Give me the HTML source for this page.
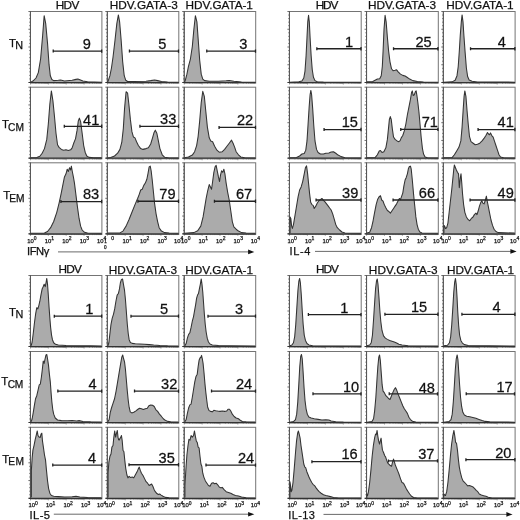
<!DOCTYPE html>
<html lang="en"><head><meta charset="utf-8"><title>Cytokine production by T cell subsets</title>
<style>
html,body{margin:0;padding:0;background:#fff;}
body{width:520px;height:520px;overflow:hidden;}
svg{display:block;will-change:transform;}
svg text{font-family:"Liberation Sans",Arial,Helvetica,sans-serif;fill:#111;stroke:#111;stroke-width:0.25px;}
</style></head><body>
<svg width="520" height="520" viewBox="0 0 520 520">
<rect width="520" height="520" fill="#fff"/>
<g>
<rect x="30.5" y="11.5" width="71.4" height="71.6" fill="#fff" stroke="#747474" stroke-width="1"/>
<path d="M30.7 82.5h-2.3M30.7 78.95h-1.4M30.7 75.4h-1.4M30.7 71.85h-1.4M30.7 68.3h-1.4M30.7 64.75h-2.3M30.7 61.2h-1.4M30.7 57.65h-1.4M30.7 54.1h-1.4M30.7 50.55h-1.4M30.7 47h-2.3M30.7 43.45h-1.4M30.7 39.9h-1.4M30.7 36.35h-1.4M30.7 32.8h-1.4M30.7 29.25h-2.3M30.7 25.7h-1.4M30.7 22.15h-1.4M30.7 18.6h-1.4M30.7 15.05h-1.4M30.7 11.5h-2.3" stroke="#4a4a4a" stroke-width="0.8" fill="none"/>
<path d="M30.4 11.5V82.5" stroke="#555" stroke-width="1" fill="none"/>
<path d="M30.5 82.8v1.8M35.87 82.8v1M39.02 82.8v1M41.25 82.8v1M42.98 82.8v1M44.39 82.8v1M45.59 82.8v1M46.62 82.8v1M47.53 82.8v1M48.35 82.8v1.8M53.72 82.8v1M56.87 82.8v1M59.1 82.8v1M60.83 82.8v1M62.24 82.8v1M63.44 82.8v1M64.47 82.8v1M65.38 82.8v1M66.2 82.8v1.8M71.57 82.8v1M74.72 82.8v1M76.95 82.8v1M78.68 82.8v1M80.09 82.8v1M81.29 82.8v1M82.32 82.8v1M83.23 82.8v1M84.05 82.8v1.8M89.42 82.8v1M92.57 82.8v1M94.8 82.8v1M96.53 82.8v1M97.94 82.8v1M99.14 82.8v1M100.17 82.8v1M101.08 82.8v1" stroke="#555" stroke-width="0.5" fill="none"/>
<polygon points="30.8,82.5 30.8,82.15 32.92,81.08 36,78 38.31,72.62 40.62,58.77 42.62,35.69 44.15,15.69 45.69,23.38 47.54,43.38 49.08,64.92 50.31,75.69 51.85,79.54 53.69,80.62 58.31,80.31 60.62,80 64.46,80.92 72.15,80.31 76,79.38 77.85,79.08 79.85,79.85 82.92,81.08 87.54,81.85 101.6,82.15 101.6,82.5" fill="#ababab"/>
<polyline points="30.8,82.15 32.92,81.08 36,78 38.31,72.62 40.62,58.77 42.62,35.69 44.15,15.69 45.69,23.38 47.54,43.38 49.08,64.92 50.31,75.69 51.85,79.54 53.69,80.62 58.31,80.31 60.62,80 64.46,80.92 72.15,80.31 76,79.38 77.85,79.08 79.85,79.85 82.92,81.08 87.54,81.85 101.6,82.15" fill="none" stroke="#333" stroke-width="1.05" stroke-linejoin="round"/>
<path d="M28.7 82.5H101.9" stroke="#333" stroke-width="1.2"/>
<path d="M52.92 51.08H101.9M53.22 49.58v3M101.7 49.38v3.4" stroke="#222" stroke-width="1.3" fill="none"/>
<text transform="translate(82.72 49.17) scale(1 1.06)" font-size="14.6" stroke-width="0.35">9</text>
</g>
<g>
<rect x="107.4" y="11.5" width="71.4" height="71.6" fill="#fff" stroke="#747474" stroke-width="1"/>
<path d="M107.6 82.5h-2.3M107.6 78.95h-1.4M107.6 75.4h-1.4M107.6 71.85h-1.4M107.6 68.3h-1.4M107.6 64.75h-2.3M107.6 61.2h-1.4M107.6 57.65h-1.4M107.6 54.1h-1.4M107.6 50.55h-1.4M107.6 47h-2.3M107.6 43.45h-1.4M107.6 39.9h-1.4M107.6 36.35h-1.4M107.6 32.8h-1.4M107.6 29.25h-2.3M107.6 25.7h-1.4M107.6 22.15h-1.4M107.6 18.6h-1.4M107.6 15.05h-1.4M107.6 11.5h-2.3" stroke="#4a4a4a" stroke-width="0.8" fill="none"/>
<path d="M107.3 11.5V82.5" stroke="#555" stroke-width="1" fill="none"/>
<path d="M107.4 82.8v1.8M112.77 82.8v1M115.92 82.8v1M118.15 82.8v1M119.88 82.8v1M121.29 82.8v1M122.49 82.8v1M123.52 82.8v1M124.43 82.8v1M125.25 82.8v1.8M130.62 82.8v1M133.77 82.8v1M136 82.8v1M137.73 82.8v1M139.14 82.8v1M140.34 82.8v1M141.37 82.8v1M142.28 82.8v1M143.1 82.8v1.8M148.47 82.8v1M151.62 82.8v1M153.85 82.8v1M155.58 82.8v1M156.99 82.8v1M158.19 82.8v1M159.22 82.8v1M160.13 82.8v1M160.95 82.8v1.8M166.32 82.8v1M169.47 82.8v1M171.7 82.8v1M173.43 82.8v1M174.84 82.8v1M176.04 82.8v1M177.07 82.8v1M177.98 82.8v1" stroke="#555" stroke-width="0.5" fill="none"/>
<polygon points="107.7,82.5 107.7,82.15 108.38,80.31 109.92,75.69 111.46,68 113,57.23 115,40.31 116.85,23.38 118.38,14.92 119.62,21.85 121.15,40.31 122.69,61.85 124.23,75.69 125.77,80.31 127.62,81.54 133.77,81.54 146.08,81.23 150.69,80.62 154.54,80 157.62,80.62 161.46,81.54 167.62,82 178.5,82.15 178.5,82.5" fill="#ababab"/>
<polyline points="107.7,82.15 108.38,80.31 109.92,75.69 111.46,68 113,57.23 115,40.31 116.85,23.38 118.38,14.92 119.62,21.85 121.15,40.31 122.69,61.85 124.23,75.69 125.77,80.31 127.62,81.54 133.77,81.54 146.08,81.23 150.69,80.62 154.54,80 157.62,80.62 161.46,81.54 167.62,82 178.5,82.15" fill="none" stroke="#333" stroke-width="1.05" stroke-linejoin="round"/>
<path d="M105.6 82.5H178.8" stroke="#333" stroke-width="1.2"/>
<path d="M129.15 51.08H178.69M129.45 49.58v3M178.49 49.38v3.4" stroke="#222" stroke-width="1.3" fill="none"/>
<text transform="translate(158.33 49.17) scale(1 1.06)" font-size="14.6" stroke-width="0.35">5</text>
</g>
<g>
<rect x="184.3" y="11.5" width="71.4" height="71.6" fill="#fff" stroke="#747474" stroke-width="1"/>
<path d="M184.5 82.5h-2.3M184.5 78.95h-1.4M184.5 75.4h-1.4M184.5 71.85h-1.4M184.5 68.3h-1.4M184.5 64.75h-2.3M184.5 61.2h-1.4M184.5 57.65h-1.4M184.5 54.1h-1.4M184.5 50.55h-1.4M184.5 47h-2.3M184.5 43.45h-1.4M184.5 39.9h-1.4M184.5 36.35h-1.4M184.5 32.8h-1.4M184.5 29.25h-2.3M184.5 25.7h-1.4M184.5 22.15h-1.4M184.5 18.6h-1.4M184.5 15.05h-1.4M184.5 11.5h-2.3" stroke="#4a4a4a" stroke-width="0.8" fill="none"/>
<path d="M184.2 11.5V82.5" stroke="#555" stroke-width="1" fill="none"/>
<path d="M184.3 82.8v1.8M189.67 82.8v1M192.82 82.8v1M195.05 82.8v1M196.78 82.8v1M198.19 82.8v1M199.39 82.8v1M200.42 82.8v1M201.33 82.8v1M202.15 82.8v1.8M207.52 82.8v1M210.67 82.8v1M212.9 82.8v1M214.63 82.8v1M216.04 82.8v1M217.24 82.8v1M218.27 82.8v1M219.18 82.8v1M220 82.8v1.8M225.37 82.8v1M228.52 82.8v1M230.75 82.8v1M232.48 82.8v1M233.89 82.8v1M235.09 82.8v1M236.12 82.8v1M237.03 82.8v1M237.85 82.8v1.8M243.22 82.8v1M246.37 82.8v1M248.6 82.8v1M250.33 82.8v1M251.74 82.8v1M252.94 82.8v1M253.97 82.8v1M254.88 82.8v1" stroke="#555" stroke-width="0.5" fill="none"/>
<polygon points="184.6,82.5 184.6,82.15 185.38,80 186.92,74.15 188.46,66.46 190.46,58.77 192.31,46.46 193.85,29.54 195.38,15.69 196.92,21.85 198.15,38.77 199.69,60.31 201.23,74.15 202.77,79.08 204.62,80.62 209.23,81.23 218.46,81.23 226.15,80.77 229.23,80.46 233.85,81.23 241.54,82 255.4,82.15 255.4,82.5" fill="#ababab"/>
<polyline points="184.6,82.15 185.38,80 186.92,74.15 188.46,66.46 190.46,58.77 192.31,46.46 193.85,29.54 195.38,15.69 196.92,21.85 198.15,38.77 199.69,60.31 201.23,74.15 202.77,79.08 204.62,80.62 209.23,81.23 218.46,81.23 226.15,80.77 229.23,80.46 233.85,81.23 241.54,82 255.4,82.15" fill="none" stroke="#333" stroke-width="1.05" stroke-linejoin="round"/>
<path d="M182.5 82.5H255.7" stroke="#333" stroke-width="1.2"/>
<path d="M206.46 51.08H255.69M206.76 49.58v3M255.49 49.38v3.4" stroke="#222" stroke-width="1.3" fill="none"/>
<text transform="translate(239.29 49.17) scale(1 1.06)" font-size="14.6" stroke-width="0.35">3</text>
</g>
<g>
<rect x="30.5" y="87.2" width="71.4" height="71.6" fill="#fff" stroke="#747474" stroke-width="1"/>
<path d="M30.7 158.2h-2.3M30.7 154.65h-1.4M30.7 151.1h-1.4M30.7 147.55h-1.4M30.7 144h-1.4M30.7 140.45h-2.3M30.7 136.9h-1.4M30.7 133.35h-1.4M30.7 129.8h-1.4M30.7 126.25h-1.4M30.7 122.7h-2.3M30.7 119.15h-1.4M30.7 115.6h-1.4M30.7 112.05h-1.4M30.7 108.5h-1.4M30.7 104.95h-2.3M30.7 101.4h-1.4M30.7 97.85h-1.4M30.7 94.3h-1.4M30.7 90.75h-1.4M30.7 87.2h-2.3" stroke="#4a4a4a" stroke-width="0.8" fill="none"/>
<path d="M30.4 87.2V158.2" stroke="#555" stroke-width="1" fill="none"/>
<path d="M30.5 158.5v1.8M35.87 158.5v1M39.02 158.5v1M41.25 158.5v1M42.98 158.5v1M44.39 158.5v1M45.59 158.5v1M46.62 158.5v1M47.53 158.5v1M48.35 158.5v1.8M53.72 158.5v1M56.87 158.5v1M59.1 158.5v1M60.83 158.5v1M62.24 158.5v1M63.44 158.5v1M64.47 158.5v1M65.38 158.5v1M66.2 158.5v1.8M71.57 158.5v1M74.72 158.5v1M76.95 158.5v1M78.68 158.5v1M80.09 158.5v1M81.29 158.5v1M82.32 158.5v1M83.23 158.5v1M84.05 158.5v1.8M89.42 158.5v1M92.57 158.5v1M94.8 158.5v1M96.53 158.5v1M97.94 158.5v1M99.14 158.5v1M100.17 158.5v1M101.08 158.5v1" stroke="#555" stroke-width="0.5" fill="none"/>
<polygon points="30.8,158.2 30.8,157.85 36.77,157.54 39.85,156.31 42.15,153.23 44.46,148.62 46.77,139.38 48.31,124 49.85,104 51.38,90.92 52.92,100.92 54.46,116.31 56,133.23 57.54,144.77 59.08,147.38 61.38,149.38 63.69,150.15 66,149.85 68.31,150.46 70.62,149.85 72.15,147.85 73.69,143.23 75.54,138.62 77.08,130.15 78.31,120.92 79.38,118.15 80.62,121.69 82.15,133.23 83.69,145.54 85.23,152.46 86.77,156 89.08,157.38 93.69,157.85 101.6,157.85 101.6,158.2" fill="#ababab"/>
<polyline points="30.8,157.85 36.77,157.54 39.85,156.31 42.15,153.23 44.46,148.62 46.77,139.38 48.31,124 49.85,104 51.38,90.92 52.92,100.92 54.46,116.31 56,133.23 57.54,144.77 59.08,147.38 61.38,149.38 63.69,150.15 66,149.85 68.31,150.46 70.62,149.85 72.15,147.85 73.69,143.23 75.54,138.62 77.08,130.15 78.31,120.92 79.38,118.15 80.62,121.69 82.15,133.23 83.69,145.54 85.23,152.46 86.77,156 89.08,157.38 93.69,157.85 101.6,157.85" fill="none" stroke="#333" stroke-width="1.05" stroke-linejoin="round"/>
<path d="M28.7 158.2H101.9" stroke="#333" stroke-width="1.2"/>
<path d="M64 126.31H101.9M64.3 124.81v3M101.7 124.61v3.4" stroke="#222" stroke-width="1.3" fill="none"/>
<text transform="translate(83.07 124.71) scale(1 1.06)" font-size="14.6" stroke-width="0.35">41</text>
</g>
<g>
<rect x="107.4" y="87.2" width="71.4" height="71.6" fill="#fff" stroke="#747474" stroke-width="1"/>
<path d="M107.6 158.2h-2.3M107.6 154.65h-1.4M107.6 151.1h-1.4M107.6 147.55h-1.4M107.6 144h-1.4M107.6 140.45h-2.3M107.6 136.9h-1.4M107.6 133.35h-1.4M107.6 129.8h-1.4M107.6 126.25h-1.4M107.6 122.7h-2.3M107.6 119.15h-1.4M107.6 115.6h-1.4M107.6 112.05h-1.4M107.6 108.5h-1.4M107.6 104.95h-2.3M107.6 101.4h-1.4M107.6 97.85h-1.4M107.6 94.3h-1.4M107.6 90.75h-1.4M107.6 87.2h-2.3" stroke="#4a4a4a" stroke-width="0.8" fill="none"/>
<path d="M107.3 87.2V158.2" stroke="#555" stroke-width="1" fill="none"/>
<path d="M107.4 158.5v1.8M112.77 158.5v1M115.92 158.5v1M118.15 158.5v1M119.88 158.5v1M121.29 158.5v1M122.49 158.5v1M123.52 158.5v1M124.43 158.5v1M125.25 158.5v1.8M130.62 158.5v1M133.77 158.5v1M136 158.5v1M137.73 158.5v1M139.14 158.5v1M140.34 158.5v1M141.37 158.5v1M142.28 158.5v1M143.1 158.5v1.8M148.47 158.5v1M151.62 158.5v1M153.85 158.5v1M155.58 158.5v1M156.99 158.5v1M158.19 158.5v1M159.22 158.5v1M160.13 158.5v1M160.95 158.5v1.8M166.32 158.5v1M169.47 158.5v1M171.7 158.5v1M173.43 158.5v1M174.84 158.5v1M176.04 158.5v1M177.07 158.5v1M177.98 158.5v1" stroke="#555" stroke-width="0.5" fill="none"/>
<polygon points="107.7,158.2 107.7,158 110.69,157.54 114.54,156 117.62,153.23 119.92,149.38 121.77,142.46 123.31,128.62 124.54,108.62 126.08,91.69 127.62,93.23 128.85,104 130.38,119.38 131.92,131.69 133.46,137.08 135,137.85 136.54,141.69 138.38,145.54 140.69,148.62 143,149.38 146.08,148.62 148.38,147.85 150.69,144 152.54,137.85 154.08,132.46 155.31,130.15 156.85,133.23 158.38,140.92 159.92,148.62 162.23,154.77 164.54,157.23 169.15,158 178.5,158 178.5,158.2" fill="#ababab"/>
<polyline points="107.7,158 110.69,157.54 114.54,156 117.62,153.23 119.92,149.38 121.77,142.46 123.31,128.62 124.54,108.62 126.08,91.69 127.62,93.23 128.85,104 130.38,119.38 131.92,131.69 133.46,137.08 135,137.85 136.54,141.69 138.38,145.54 140.69,148.62 143,149.38 146.08,148.62 148.38,147.85 150.69,144 152.54,137.85 154.08,132.46 155.31,130.15 156.85,133.23 158.38,140.92 159.92,148.62 162.23,154.77 164.54,157.23 169.15,158 178.5,158" fill="none" stroke="#333" stroke-width="1.05" stroke-linejoin="round"/>
<path d="M105.6 158.2H178.8" stroke="#333" stroke-width="1.2"/>
<path d="M139.62 126.31H178.69M139.92 124.81v3M178.49 124.61v3.4" stroke="#222" stroke-width="1.3" fill="none"/>
<text transform="translate(160.07 123.63) scale(1 1.06)" font-size="14.6" stroke-width="0.35">33</text>
</g>
<g>
<rect x="184.3" y="87.2" width="71.4" height="71.6" fill="#fff" stroke="#747474" stroke-width="1"/>
<path d="M184.5 158.2h-2.3M184.5 154.65h-1.4M184.5 151.1h-1.4M184.5 147.55h-1.4M184.5 144h-1.4M184.5 140.45h-2.3M184.5 136.9h-1.4M184.5 133.35h-1.4M184.5 129.8h-1.4M184.5 126.25h-1.4M184.5 122.7h-2.3M184.5 119.15h-1.4M184.5 115.6h-1.4M184.5 112.05h-1.4M184.5 108.5h-1.4M184.5 104.95h-2.3M184.5 101.4h-1.4M184.5 97.85h-1.4M184.5 94.3h-1.4M184.5 90.75h-1.4M184.5 87.2h-2.3" stroke="#4a4a4a" stroke-width="0.8" fill="none"/>
<path d="M184.2 87.2V158.2" stroke="#555" stroke-width="1" fill="none"/>
<path d="M184.3 158.5v1.8M189.67 158.5v1M192.82 158.5v1M195.05 158.5v1M196.78 158.5v1M198.19 158.5v1M199.39 158.5v1M200.42 158.5v1M201.33 158.5v1M202.15 158.5v1.8M207.52 158.5v1M210.67 158.5v1M212.9 158.5v1M214.63 158.5v1M216.04 158.5v1M217.24 158.5v1M218.27 158.5v1M219.18 158.5v1M220 158.5v1.8M225.37 158.5v1M228.52 158.5v1M230.75 158.5v1M232.48 158.5v1M233.89 158.5v1M235.09 158.5v1M236.12 158.5v1M237.03 158.5v1M237.85 158.5v1.8M243.22 158.5v1M246.37 158.5v1M248.6 158.5v1M250.33 158.5v1M251.74 158.5v1M252.94 158.5v1M253.97 158.5v1M254.88 158.5v1" stroke="#555" stroke-width="0.5" fill="none"/>
<polygon points="184.6,158.2 184.6,157.85 188.46,157.08 192.31,155.08 194.62,151.69 196.62,145.54 198.15,136.31 199.69,120.92 201.23,102.46 202.77,91.38 204.31,96.31 205.85,111.69 207.38,127.08 209.23,137.85 210.77,140.92 212.62,141.69 214.62,146.31 216.92,150.15 219.23,152.15 222.31,151.69 224.62,149.38 226.92,146.31 229.23,143.23 231.54,140.15 233.08,143.23 234.62,147.08 236.15,151.69 238.46,154.77 240.77,156.92 244.62,157.85 255.4,158 255.4,158.2" fill="#ababab"/>
<polyline points="184.6,157.85 188.46,157.08 192.31,155.08 194.62,151.69 196.62,145.54 198.15,136.31 199.69,120.92 201.23,102.46 202.77,91.38 204.31,96.31 205.85,111.69 207.38,127.08 209.23,137.85 210.77,140.92 212.62,141.69 214.62,146.31 216.92,150.15 219.23,152.15 222.31,151.69 224.62,149.38 226.92,146.31 229.23,143.23 231.54,140.15 233.08,143.23 234.62,147.08 236.15,151.69 238.46,154.77 240.77,156.92 244.62,157.85 255.4,158" fill="none" stroke="#333" stroke-width="1.05" stroke-linejoin="round"/>
<path d="M182.5 158.2H255.7" stroke="#333" stroke-width="1.2"/>
<path d="M218.77 127.38H255.69M219.07 125.88v3M255.49 125.68v3.4" stroke="#222" stroke-width="1.3" fill="none"/>
<text transform="translate(236.88 124.71) scale(1 1.06)" font-size="14.6" stroke-width="0.35">22</text>
</g>
<g>
<rect x="30.5" y="162.8" width="71.4" height="71.6" fill="#fff" stroke="#747474" stroke-width="1"/>
<path d="M30.7 233.8h-2.3M30.7 230.25h-1.4M30.7 226.7h-1.4M30.7 223.15h-1.4M30.7 219.6h-1.4M30.7 216.05h-2.3M30.7 212.5h-1.4M30.7 208.95h-1.4M30.7 205.4h-1.4M30.7 201.85h-1.4M30.7 198.3h-2.3M30.7 194.75h-1.4M30.7 191.2h-1.4M30.7 187.65h-1.4M30.7 184.1h-1.4M30.7 180.55h-2.3M30.7 177h-1.4M30.7 173.45h-1.4M30.7 169.9h-1.4M30.7 166.35h-1.4M30.7 162.8h-2.3" stroke="#4a4a4a" stroke-width="0.8" fill="none"/>
<path d="M30.4 162.8V233.8" stroke="#555" stroke-width="1" fill="none"/>
<path d="M30.5 234.1v1.8M35.87 234.1v1M39.02 234.1v1M41.25 234.1v1M42.98 234.1v1M44.39 234.1v1M45.59 234.1v1M46.62 234.1v1M47.53 234.1v1M48.35 234.1v1.8M53.72 234.1v1M56.87 234.1v1M59.1 234.1v1M60.83 234.1v1M62.24 234.1v1M63.44 234.1v1M64.47 234.1v1M65.38 234.1v1M66.2 234.1v1.8M71.57 234.1v1M74.72 234.1v1M76.95 234.1v1M78.68 234.1v1M80.09 234.1v1M81.29 234.1v1M82.32 234.1v1M83.23 234.1v1M84.05 234.1v1.8M89.42 234.1v1M92.57 234.1v1M94.8 234.1v1M96.53 234.1v1M97.94 234.1v1M99.14 234.1v1M100.17 234.1v1M101.08 234.1v1" stroke="#555" stroke-width="0.5" fill="none"/>
<polygon points="30.8,233.8 30.8,233.23 44.46,233.08 47.54,231.54 50.62,227.69 53.69,221.54 56.77,212.31 59.08,203.08 61.08,193.85 62.92,184.62 64.46,176.92 66,173.85 67.23,169.23 68.31,171.54 69.54,167.69 70.62,170 71.38,166.15 72.15,170.77 73.38,176.92 74.46,183.08 76,195.38 77.54,207.69 79.08,218.46 80.62,226.15 82.15,230 84.46,232.31 87.54,233.08 101.6,233.23 101.6,233.8" fill="#ababab"/>
<polyline points="30.8,233.23 44.46,233.08 47.54,231.54 50.62,227.69 53.69,221.54 56.77,212.31 59.08,203.08 61.08,193.85 62.92,184.62 64.46,176.92 66,173.85 67.23,169.23 68.31,171.54 69.54,167.69 70.62,170 71.38,166.15 72.15,170.77 73.38,176.92 74.46,183.08 76,195.38 77.54,207.69 79.08,218.46 80.62,226.15 82.15,230 84.46,232.31 87.54,233.08 101.6,233.23" fill="none" stroke="#333" stroke-width="1.05" stroke-linejoin="round"/>
<path d="M28.7 233.8H101.9" stroke="#333" stroke-width="1.2"/>
<path d="M60.62 201.54H101.9M60.92 200.04v3M101.7 199.84v3.4" stroke="#222" stroke-width="1.3" fill="none"/>
<text transform="translate(82.88 198.86) scale(1 1.06)" font-size="14.6" stroke-width="0.35">83</text>
</g>
<g>
<rect x="107.4" y="162.8" width="71.4" height="71.6" fill="#fff" stroke="#747474" stroke-width="1"/>
<path d="M107.6 233.8h-2.3M107.6 230.25h-1.4M107.6 226.7h-1.4M107.6 223.15h-1.4M107.6 219.6h-1.4M107.6 216.05h-2.3M107.6 212.5h-1.4M107.6 208.95h-1.4M107.6 205.4h-1.4M107.6 201.85h-1.4M107.6 198.3h-2.3M107.6 194.75h-1.4M107.6 191.2h-1.4M107.6 187.65h-1.4M107.6 184.1h-1.4M107.6 180.55h-2.3M107.6 177h-1.4M107.6 173.45h-1.4M107.6 169.9h-1.4M107.6 166.35h-1.4M107.6 162.8h-2.3" stroke="#4a4a4a" stroke-width="0.8" fill="none"/>
<path d="M107.3 162.8V233.8" stroke="#555" stroke-width="1" fill="none"/>
<path d="M107.4 234.1v1.8M112.77 234.1v1M115.92 234.1v1M118.15 234.1v1M119.88 234.1v1M121.29 234.1v1M122.49 234.1v1M123.52 234.1v1M124.43 234.1v1M125.25 234.1v1.8M130.62 234.1v1M133.77 234.1v1M136 234.1v1M137.73 234.1v1M139.14 234.1v1M140.34 234.1v1M141.37 234.1v1M142.28 234.1v1M143.1 234.1v1.8M148.47 234.1v1M151.62 234.1v1M153.85 234.1v1M155.58 234.1v1M156.99 234.1v1M158.19 234.1v1M159.22 234.1v1M160.13 234.1v1M160.95 234.1v1.8M166.32 234.1v1M169.47 234.1v1M171.7 234.1v1M173.43 234.1v1M174.84 234.1v1M176.04 234.1v1M177.07 234.1v1M177.98 234.1v1" stroke="#555" stroke-width="0.5" fill="none"/>
<polygon points="107.7,233.8 107.7,233.08 119.92,232.92 123,231.08 126.08,226.15 129.15,219.23 132.23,211.54 135.31,203.85 137.62,198.46 139.15,194.62 140.69,190 142.23,189.23 143.77,185.38 145.31,183.08 146.85,179.23 148.08,173.08 149.15,166.92 150.23,166.15 151.15,170.77 152.23,180 153.46,192.31 154.54,203.08 156.08,213.85 157.62,221.54 159.15,227.69 161.46,231.08 164.54,232.62 169.15,233.08 178.5,233.23 178.5,233.8" fill="#ababab"/>
<polyline points="107.7,233.08 119.92,232.92 123,231.08 126.08,226.15 129.15,219.23 132.23,211.54 135.31,203.85 137.62,198.46 139.15,194.62 140.69,190 142.23,189.23 143.77,185.38 145.31,183.08 146.85,179.23 148.08,173.08 149.15,166.92 150.23,166.15 151.15,170.77 152.23,180 153.46,192.31 154.54,203.08 156.08,213.85 157.62,221.54 159.15,227.69 161.46,231.08 164.54,232.62 169.15,233.08 178.5,233.23" fill="none" stroke="#333" stroke-width="1.05" stroke-linejoin="round"/>
<path d="M105.6 233.8H178.8" stroke="#333" stroke-width="1.2"/>
<path d="M137.62 201.23H178.69M137.92 199.73v3M178.49 199.53v3.4" stroke="#222" stroke-width="1.3" fill="none"/>
<text transform="translate(159.31 198.86) scale(1 1.06)" font-size="14.6" stroke-width="0.35">79</text>
</g>
<g>
<rect x="184.3" y="162.8" width="71.4" height="71.6" fill="#fff" stroke="#747474" stroke-width="1"/>
<path d="M184.5 233.8h-2.3M184.5 230.25h-1.4M184.5 226.7h-1.4M184.5 223.15h-1.4M184.5 219.6h-1.4M184.5 216.05h-2.3M184.5 212.5h-1.4M184.5 208.95h-1.4M184.5 205.4h-1.4M184.5 201.85h-1.4M184.5 198.3h-2.3M184.5 194.75h-1.4M184.5 191.2h-1.4M184.5 187.65h-1.4M184.5 184.1h-1.4M184.5 180.55h-2.3M184.5 177h-1.4M184.5 173.45h-1.4M184.5 169.9h-1.4M184.5 166.35h-1.4M184.5 162.8h-2.3" stroke="#4a4a4a" stroke-width="0.8" fill="none"/>
<path d="M184.2 162.8V233.8" stroke="#555" stroke-width="1" fill="none"/>
<path d="M184.3 234.1v1.8M189.67 234.1v1M192.82 234.1v1M195.05 234.1v1M196.78 234.1v1M198.19 234.1v1M199.39 234.1v1M200.42 234.1v1M201.33 234.1v1M202.15 234.1v1.8M207.52 234.1v1M210.67 234.1v1M212.9 234.1v1M214.63 234.1v1M216.04 234.1v1M217.24 234.1v1M218.27 234.1v1M219.18 234.1v1M220 234.1v1.8M225.37 234.1v1M228.52 234.1v1M230.75 234.1v1M232.48 234.1v1M233.89 234.1v1M235.09 234.1v1M236.12 234.1v1M237.03 234.1v1M237.85 234.1v1.8M243.22 234.1v1M246.37 234.1v1M248.6 234.1v1M250.33 234.1v1M251.74 234.1v1M252.94 234.1v1M253.97 234.1v1M254.88 234.1v1" stroke="#555" stroke-width="0.5" fill="none"/>
<polygon points="184.6,233.8 184.6,233.23 193.85,232.62 197.69,230.77 200.77,226.15 203.08,216.92 204.62,207.69 206.15,198.46 207.69,190.77 209.23,184.62 210.46,186.92 211.54,189.23 212.62,181.54 213.85,172.31 215.08,166.92 216.15,165.38 217.38,171.54 218.46,176.92 219.54,181.54 220.46,175.38 221.54,170.77 222.77,172.31 223.85,169.23 224.92,173.85 226.15,183.08 227.69,192.31 229.23,200 230.77,210.77 232.31,221.54 233.85,226.92 236.15,229.23 238.46,231.08 241.54,232.62 246.15,233.08 255.4,233.23 255.4,233.8" fill="#ababab"/>
<polyline points="184.6,233.23 193.85,232.62 197.69,230.77 200.77,226.15 203.08,216.92 204.62,207.69 206.15,198.46 207.69,190.77 209.23,184.62 210.46,186.92 211.54,189.23 212.62,181.54 213.85,172.31 215.08,166.92 216.15,165.38 217.38,171.54 218.46,176.92 219.54,181.54 220.46,175.38 221.54,170.77 222.77,172.31 223.85,169.23 224.92,173.85 226.15,183.08 227.69,192.31 229.23,200 230.77,210.77 232.31,221.54 233.85,226.92 236.15,229.23 238.46,231.08 241.54,232.62 246.15,233.08 255.4,233.23" fill="none" stroke="#333" stroke-width="1.05" stroke-linejoin="round"/>
<path d="M182.5 233.8H255.7" stroke="#333" stroke-width="1.2"/>
<path d="M214.15 201.23H255.69M214.45 199.73v3M255.49 199.53v3.4" stroke="#222" stroke-width="1.3" fill="none"/>
<text transform="translate(235.96 198.86) scale(1 1.06)" font-size="14.6" stroke-width="0.35">67</text>
</g>
<g>
<rect x="289.5" y="11.5" width="71.7" height="71.6" fill="#fff" stroke="#747474" stroke-width="1"/>
<path d="M289.7 82.5h-2.3M289.7 78.95h-1.4M289.7 75.4h-1.4M289.7 71.85h-1.4M289.7 68.3h-1.4M289.7 64.75h-2.3M289.7 61.2h-1.4M289.7 57.65h-1.4M289.7 54.1h-1.4M289.7 50.55h-1.4M289.7 47h-2.3M289.7 43.45h-1.4M289.7 39.9h-1.4M289.7 36.35h-1.4M289.7 32.8h-1.4M289.7 29.25h-2.3M289.7 25.7h-1.4M289.7 22.15h-1.4M289.7 18.6h-1.4M289.7 15.05h-1.4M289.7 11.5h-2.3" stroke="#4a4a4a" stroke-width="0.8" fill="none"/>
<path d="M289.4 11.5V82.5" stroke="#555" stroke-width="1" fill="none"/>
<path d="M289.5 82.8v1.8M294.9 82.8v1M298.05 82.8v1M300.29 82.8v1M302.03 82.8v1M303.45 82.8v1M304.65 82.8v1M305.69 82.8v1M306.6 82.8v1M307.43 82.8v1.8M312.82 82.8v1M315.98 82.8v1M318.22 82.8v1M319.95 82.8v1M321.37 82.8v1M322.57 82.8v1M323.61 82.8v1M324.53 82.8v1M325.35 82.8v1.8M330.75 82.8v1M333.9 82.8v1M336.14 82.8v1M337.88 82.8v1M339.3 82.8v1M340.5 82.8v1M341.54 82.8v1M342.45 82.8v1M343.27 82.8v1.8M348.67 82.8v1M351.83 82.8v1M354.07 82.8v1M355.8 82.8v1M357.22 82.8v1M358.42 82.8v1M359.46 82.8v1M360.38 82.8v1" stroke="#555" stroke-width="0.5" fill="none"/>
<polygon points="289.8,82.5 289.8,82.15 298.85,81.85 301.92,80.92 303.77,78 305,71.08 306.08,55.69 307,37.23 307.77,21.85 308.54,15.38 309.31,21.85 310.08,37.23 311.15,55.69 312.23,69.54 313.46,77.23 315,80.62 317.31,81.69 323.46,82 360.9,82.15 360.9,82.5" fill="#ababab"/>
<polyline points="289.8,82.15 298.85,81.85 301.92,80.92 303.77,78 305,71.08 306.08,55.69 307,37.23 307.77,21.85 308.54,15.38 309.31,21.85 310.08,37.23 311.15,55.69 312.23,69.54 313.46,77.23 315,80.62 317.31,81.69 323.46,82 360.9,82.15" fill="none" stroke="#333" stroke-width="1.05" stroke-linejoin="round"/>
<path d="M287.7 82.5H361.2" stroke="#333" stroke-width="1.2"/>
<path d="M316.54 48.77H361.2M316.84 47.27v3M361 47.07v3.4" stroke="#222" stroke-width="1.3" fill="none"/>
<text transform="translate(344.97 46.86) scale(1 1.06)" font-size="14.6" stroke-width="0.35">1</text>
</g>
<g>
<rect x="366.6" y="11.5" width="71.7" height="71.6" fill="#fff" stroke="#747474" stroke-width="1"/>
<path d="M366.8 82.5h-2.3M366.8 78.95h-1.4M366.8 75.4h-1.4M366.8 71.85h-1.4M366.8 68.3h-1.4M366.8 64.75h-2.3M366.8 61.2h-1.4M366.8 57.65h-1.4M366.8 54.1h-1.4M366.8 50.55h-1.4M366.8 47h-2.3M366.8 43.45h-1.4M366.8 39.9h-1.4M366.8 36.35h-1.4M366.8 32.8h-1.4M366.8 29.25h-2.3M366.8 25.7h-1.4M366.8 22.15h-1.4M366.8 18.6h-1.4M366.8 15.05h-1.4M366.8 11.5h-2.3" stroke="#4a4a4a" stroke-width="0.8" fill="none"/>
<path d="M366.5 11.5V82.5" stroke="#555" stroke-width="1" fill="none"/>
<path d="M366.6 82.8v1.8M372 82.8v1M375.15 82.8v1M377.39 82.8v1M379.13 82.8v1M380.55 82.8v1M381.75 82.8v1M382.79 82.8v1M383.7 82.8v1M384.53 82.8v1.8M389.92 82.8v1M393.08 82.8v1M395.32 82.8v1M397.05 82.8v1M398.47 82.8v1M399.67 82.8v1M400.71 82.8v1M401.63 82.8v1M402.45 82.8v1.8M407.85 82.8v1M411 82.8v1M413.24 82.8v1M414.98 82.8v1M416.4 82.8v1M417.6 82.8v1M418.64 82.8v1M419.55 82.8v1M420.38 82.8v1.8M425.77 82.8v1M428.93 82.8v1M431.17 82.8v1M432.9 82.8v1M434.32 82.8v1M435.52 82.8v1M436.56 82.8v1M437.48 82.8v1" stroke="#555" stroke-width="0.5" fill="none"/>
<polygon points="366.9,82.5 366.9,81.85 372.77,81.54 375.08,80.31 377.38,79.08 379.69,78.77 381.23,75.69 382.31,66.46 383.23,48 384,29.54 385.08,15.38 386.15,21.85 387.38,37.23 388.62,51.08 390,61.85 391.54,68.77 393.08,70.77 395.08,70.31 396.62,69.85 398.15,71.85 400.46,74.15 402.77,75.38 405.08,76 407.38,77.54 409.69,79.08 412.77,80.62 417.38,81.54 423.54,82 438,82.15 438,82.5" fill="#ababab"/>
<polyline points="366.9,81.85 372.77,81.54 375.08,80.31 377.38,79.08 379.69,78.77 381.23,75.69 382.31,66.46 383.23,48 384,29.54 385.08,15.38 386.15,21.85 387.38,37.23 388.62,51.08 390,61.85 391.54,68.77 393.08,70.77 395.08,70.31 396.62,69.85 398.15,71.85 400.46,74.15 402.77,75.38 405.08,76 407.38,77.54 409.69,79.08 412.77,80.62 417.38,81.54 423.54,82 438,82.15" fill="none" stroke="#333" stroke-width="1.05" stroke-linejoin="round"/>
<path d="M364.8 82.5H438.3" stroke="#333" stroke-width="1.2"/>
<path d="M393.23 48.77H438.15M393.53 47.27v3M437.95 47.07v3.4" stroke="#222" stroke-width="1.3" fill="none"/>
<text transform="translate(415.51 46.55) scale(1 1.06)" font-size="14.6" stroke-width="0.35">25</text>
</g>
<g>
<rect x="443.4" y="11.5" width="71.7" height="71.6" fill="#fff" stroke="#747474" stroke-width="1"/>
<path d="M443.6 82.5h-2.3M443.6 78.95h-1.4M443.6 75.4h-1.4M443.6 71.85h-1.4M443.6 68.3h-1.4M443.6 64.75h-2.3M443.6 61.2h-1.4M443.6 57.65h-1.4M443.6 54.1h-1.4M443.6 50.55h-1.4M443.6 47h-2.3M443.6 43.45h-1.4M443.6 39.9h-1.4M443.6 36.35h-1.4M443.6 32.8h-1.4M443.6 29.25h-2.3M443.6 25.7h-1.4M443.6 22.15h-1.4M443.6 18.6h-1.4M443.6 15.05h-1.4M443.6 11.5h-2.3" stroke="#4a4a4a" stroke-width="0.8" fill="none"/>
<path d="M443.3 11.5V82.5" stroke="#555" stroke-width="1" fill="none"/>
<path d="M443.4 82.8v1.8M448.8 82.8v1M451.95 82.8v1M454.19 82.8v1M455.93 82.8v1M457.35 82.8v1M458.55 82.8v1M459.59 82.8v1M460.5 82.8v1M461.32 82.8v1.8M466.72 82.8v1M469.88 82.8v1M472.12 82.8v1M473.85 82.8v1M475.27 82.8v1M476.47 82.8v1M477.51 82.8v1M478.43 82.8v1M479.25 82.8v1.8M484.65 82.8v1M487.8 82.8v1M490.04 82.8v1M491.78 82.8v1M493.2 82.8v1M494.4 82.8v1M495.44 82.8v1M496.35 82.8v1M497.17 82.8v1.8M502.57 82.8v1M505.73 82.8v1M507.97 82.8v1M509.7 82.8v1M511.12 82.8v1M512.32 82.8v1M513.36 82.8v1M514.28 82.8v1" stroke="#555" stroke-width="0.5" fill="none"/>
<polygon points="443.7,82.5 443.7,82.15 452.08,81.85 455.15,80.31 457,75.69 458.23,66.46 459.31,51.08 460.23,35.69 461.31,21.85 462.08,14.92 463,21.85 463.92,35.69 465.15,52.62 466.38,68 467.62,76.46 469.15,80 472.08,81.23 477.46,82 514.8,82.15 514.8,82.5" fill="#ababab"/>
<polyline points="443.7,82.15 452.08,81.85 455.15,80.31 457,75.69 458.23,66.46 459.31,51.08 460.23,35.69 461.31,21.85 462.08,14.92 463,21.85 463.92,35.69 465.15,52.62 466.38,68 467.62,76.46 469.15,80 472.08,81.23 477.46,82 514.8,82.15" fill="none" stroke="#333" stroke-width="1.05" stroke-linejoin="round"/>
<path d="M441.6 82.5H515.1" stroke="#333" stroke-width="1.2"/>
<path d="M470.23 48.77H515.1M470.53 47.27v3M514.9 47.07v3.4" stroke="#222" stroke-width="1.3" fill="none"/>
<text transform="translate(497.68 46.55) scale(1 1.06)" font-size="14.6" stroke-width="0.35">4</text>
</g>
<g>
<rect x="289.5" y="87.2" width="71.7" height="71.6" fill="#fff" stroke="#747474" stroke-width="1"/>
<path d="M289.7 158.2h-2.3M289.7 154.65h-1.4M289.7 151.1h-1.4M289.7 147.55h-1.4M289.7 144h-1.4M289.7 140.45h-2.3M289.7 136.9h-1.4M289.7 133.35h-1.4M289.7 129.8h-1.4M289.7 126.25h-1.4M289.7 122.7h-2.3M289.7 119.15h-1.4M289.7 115.6h-1.4M289.7 112.05h-1.4M289.7 108.5h-1.4M289.7 104.95h-2.3M289.7 101.4h-1.4M289.7 97.85h-1.4M289.7 94.3h-1.4M289.7 90.75h-1.4M289.7 87.2h-2.3" stroke="#4a4a4a" stroke-width="0.8" fill="none"/>
<path d="M289.4 87.2V158.2" stroke="#555" stroke-width="1" fill="none"/>
<path d="M289.5 158.5v1.8M294.9 158.5v1M298.05 158.5v1M300.29 158.5v1M302.03 158.5v1M303.45 158.5v1M304.65 158.5v1M305.69 158.5v1M306.6 158.5v1M307.43 158.5v1.8M312.82 158.5v1M315.98 158.5v1M318.22 158.5v1M319.95 158.5v1M321.37 158.5v1M322.57 158.5v1M323.61 158.5v1M324.53 158.5v1M325.35 158.5v1.8M330.75 158.5v1M333.9 158.5v1M336.14 158.5v1M337.88 158.5v1M339.3 158.5v1M340.5 158.5v1M341.54 158.5v1M342.45 158.5v1M343.27 158.5v1.8M348.67 158.5v1M351.83 158.5v1M354.07 158.5v1M355.8 158.5v1M357.22 158.5v1M358.42 158.5v1M359.46 158.5v1M360.38 158.5v1" stroke="#555" stroke-width="0.5" fill="none"/>
<polygon points="289.8,158.2 289.8,157.85 296.54,157.54 299.62,156 301.92,154 304.23,153.54 305.77,150.15 307,140.92 308.08,124 309.15,107.08 310.08,94.77 310.85,90.46 311.62,94.77 312.69,108.62 313.77,125.54 315,140.92 316.54,149.38 318.08,152.46 320.38,154 323.46,154 325.77,153.23 328.85,152.92 331.15,152 333.46,151.69 335.77,153.23 338.08,155.08 341.15,156.62 345,157.69 351.15,158 360.9,158 360.9,158.2" fill="#ababab"/>
<polyline points="289.8,157.85 296.54,157.54 299.62,156 301.92,154 304.23,153.54 305.77,150.15 307,140.92 308.08,124 309.15,107.08 310.08,94.77 310.85,90.46 311.62,94.77 312.69,108.62 313.77,125.54 315,140.92 316.54,149.38 318.08,152.46 320.38,154 323.46,154 325.77,153.23 328.85,152.92 331.15,152 333.46,151.69 335.77,153.23 338.08,155.08 341.15,156.62 345,157.69 351.15,158 360.9,158" fill="none" stroke="#333" stroke-width="1.05" stroke-linejoin="round"/>
<path d="M287.7 158.2H361.2" stroke="#333" stroke-width="1.2"/>
<path d="M323.77 129.54H361.2M324.07 128.04v3M361 127.84v3.4" stroke="#222" stroke-width="1.3" fill="none"/>
<text transform="translate(341.63 127.17) scale(1 1.06)" font-size="14.6" stroke-width="0.35">15</text>
</g>
<g>
<rect x="366.6" y="87.2" width="71.7" height="71.6" fill="#fff" stroke="#747474" stroke-width="1"/>
<path d="M366.8 158.2h-2.3M366.8 154.65h-1.4M366.8 151.1h-1.4M366.8 147.55h-1.4M366.8 144h-1.4M366.8 140.45h-2.3M366.8 136.9h-1.4M366.8 133.35h-1.4M366.8 129.8h-1.4M366.8 126.25h-1.4M366.8 122.7h-2.3M366.8 119.15h-1.4M366.8 115.6h-1.4M366.8 112.05h-1.4M366.8 108.5h-1.4M366.8 104.95h-2.3M366.8 101.4h-1.4M366.8 97.85h-1.4M366.8 94.3h-1.4M366.8 90.75h-1.4M366.8 87.2h-2.3" stroke="#4a4a4a" stroke-width="0.8" fill="none"/>
<path d="M366.5 87.2V158.2" stroke="#555" stroke-width="1" fill="none"/>
<path d="M366.6 158.5v1.8M372 158.5v1M375.15 158.5v1M377.39 158.5v1M379.13 158.5v1M380.55 158.5v1M381.75 158.5v1M382.79 158.5v1M383.7 158.5v1M384.53 158.5v1.8M389.92 158.5v1M393.08 158.5v1M395.32 158.5v1M397.05 158.5v1M398.47 158.5v1M399.67 158.5v1M400.71 158.5v1M401.63 158.5v1M402.45 158.5v1.8M407.85 158.5v1M411 158.5v1M413.24 158.5v1M414.98 158.5v1M416.4 158.5v1M417.6 158.5v1M418.64 158.5v1M419.55 158.5v1M420.38 158.5v1.8M425.77 158.5v1M428.93 158.5v1M431.17 158.5v1M432.9 158.5v1M434.32 158.5v1M435.52 158.5v1M436.56 158.5v1M437.48 158.5v1" stroke="#555" stroke-width="0.5" fill="none"/>
<polygon points="366.9,158.2 366.9,157.85 375.08,157.54 377.38,154.77 379.23,150.92 380.46,150.46 382,152.46 383.85,151.69 385.85,147.85 387.38,139.38 388.46,128.62 389.38,119.38 390.31,116.62 391.23,119.38 392.31,128.62 393.54,137.08 395.08,139.38 397.08,140.92 398.92,141.69 400.15,140.62 401.23,137.85 402.77,135.54 404.31,130.92 405.85,124 407.38,114.77 408.92,107.08 410.46,99.38 411.54,92.46 412.31,90.92 413.23,95.54 414.31,94.77 415.38,91.69 416.15,90.92 416.92,95.54 417.85,102.46 418.92,111.69 420,124 421.23,137.85 422.46,148.62 423.54,154 425.08,156.92 427.38,157.85 438,158 438,158.2" fill="#ababab"/>
<polyline points="366.9,157.85 375.08,157.54 377.38,154.77 379.23,150.92 380.46,150.46 382,152.46 383.85,151.69 385.85,147.85 387.38,139.38 388.46,128.62 389.38,119.38 390.31,116.62 391.23,119.38 392.31,128.62 393.54,137.08 395.08,139.38 397.08,140.92 398.92,141.69 400.15,140.62 401.23,137.85 402.77,135.54 404.31,130.92 405.85,124 407.38,114.77 408.92,107.08 410.46,99.38 411.54,92.46 412.31,90.92 413.23,95.54 414.31,94.77 415.38,91.69 416.15,90.92 416.92,95.54 417.85,102.46 418.92,111.69 420,124 421.23,137.85 422.46,148.62 423.54,154 425.08,156.92 427.38,157.85 438,158" fill="none" stroke="#333" stroke-width="1.05" stroke-linejoin="round"/>
<path d="M364.8 158.2H438.3" stroke="#333" stroke-width="1.2"/>
<path d="M400.46 129.38H438.15M400.76 127.88v3M437.95 127.68v3.4" stroke="#222" stroke-width="1.3" fill="none"/>
<text transform="translate(421.71 127.48) scale(1 1.06)" font-size="14.6" stroke-width="0.35">71</text>
</g>
<g>
<rect x="443.4" y="87.2" width="71.7" height="71.6" fill="#fff" stroke="#747474" stroke-width="1"/>
<path d="M443.6 158.2h-2.3M443.6 154.65h-1.4M443.6 151.1h-1.4M443.6 147.55h-1.4M443.6 144h-1.4M443.6 140.45h-2.3M443.6 136.9h-1.4M443.6 133.35h-1.4M443.6 129.8h-1.4M443.6 126.25h-1.4M443.6 122.7h-2.3M443.6 119.15h-1.4M443.6 115.6h-1.4M443.6 112.05h-1.4M443.6 108.5h-1.4M443.6 104.95h-2.3M443.6 101.4h-1.4M443.6 97.85h-1.4M443.6 94.3h-1.4M443.6 90.75h-1.4M443.6 87.2h-2.3" stroke="#4a4a4a" stroke-width="0.8" fill="none"/>
<path d="M443.3 87.2V158.2" stroke="#555" stroke-width="1" fill="none"/>
<path d="M443.4 158.5v1.8M448.8 158.5v1M451.95 158.5v1M454.19 158.5v1M455.93 158.5v1M457.35 158.5v1M458.55 158.5v1M459.59 158.5v1M460.5 158.5v1M461.32 158.5v1.8M466.72 158.5v1M469.88 158.5v1M472.12 158.5v1M473.85 158.5v1M475.27 158.5v1M476.47 158.5v1M477.51 158.5v1M478.43 158.5v1M479.25 158.5v1.8M484.65 158.5v1M487.8 158.5v1M490.04 158.5v1M491.78 158.5v1M493.2 158.5v1M494.4 158.5v1M495.44 158.5v1M496.35 158.5v1M497.17 158.5v1.8M502.57 158.5v1M505.73 158.5v1M507.97 158.5v1M509.7 158.5v1M511.12 158.5v1M512.32 158.5v1M513.36 158.5v1M514.28 158.5v1" stroke="#555" stroke-width="0.5" fill="none"/>
<polygon points="443.7,158.2 443.7,157.85 452.08,157.54 454.38,154.77 456.69,150.92 459,147.08 460.85,140.92 462.08,127.08 463.15,110.15 464.08,96.31 464.85,90.92 465.92,96.31 467,110.15 468.23,124 469.46,136.31 471,141.69 473.15,143.23 475.15,144.77 477.46,144.31 479.77,143.23 482.08,140.92 484.38,137.85 485.92,135.54 487.46,132.46 488.54,134 489.46,134.77 490.54,132.92 491.77,135.54 493.15,137.08 494.38,140.92 495.92,145.54 497.46,150.15 499,154.77 500.54,157.08 503.62,157.85 514.8,158 514.8,158.2" fill="#ababab"/>
<polyline points="443.7,157.85 452.08,157.54 454.38,154.77 456.69,150.92 459,147.08 460.85,140.92 462.08,127.08 463.15,110.15 464.08,96.31 464.85,90.92 465.92,96.31 467,110.15 468.23,124 469.46,136.31 471,141.69 473.15,143.23 475.15,144.77 477.46,144.31 479.77,143.23 482.08,140.92 484.38,137.85 485.92,135.54 487.46,132.46 488.54,134 489.46,134.77 490.54,132.92 491.77,135.54 493.15,137.08 494.38,140.92 495.92,145.54 497.46,150.15 499,154.77 500.54,157.08 503.62,157.85 514.8,158" fill="none" stroke="#333" stroke-width="1.05" stroke-linejoin="round"/>
<path d="M441.6 158.2H515.1" stroke="#333" stroke-width="1.2"/>
<path d="M477.77 129.54H515.1M478.07 128.04v3M514.9 127.84v3.4" stroke="#222" stroke-width="1.3" fill="none"/>
<text transform="translate(497.61 127.17) scale(1 1.06)" font-size="14.6" stroke-width="0.35">41</text>
</g>
<g>
<rect x="289.5" y="162.8" width="71.7" height="71.6" fill="#fff" stroke="#747474" stroke-width="1"/>
<path d="M289.7 233.8h-2.3M289.7 230.25h-1.4M289.7 226.7h-1.4M289.7 223.15h-1.4M289.7 219.6h-1.4M289.7 216.05h-2.3M289.7 212.5h-1.4M289.7 208.95h-1.4M289.7 205.4h-1.4M289.7 201.85h-1.4M289.7 198.3h-2.3M289.7 194.75h-1.4M289.7 191.2h-1.4M289.7 187.65h-1.4M289.7 184.1h-1.4M289.7 180.55h-2.3M289.7 177h-1.4M289.7 173.45h-1.4M289.7 169.9h-1.4M289.7 166.35h-1.4M289.7 162.8h-2.3" stroke="#4a4a4a" stroke-width="0.8" fill="none"/>
<path d="M289.4 162.8V233.8" stroke="#555" stroke-width="1" fill="none"/>
<path d="M289.5 234.1v1.8M294.9 234.1v1M298.05 234.1v1M300.29 234.1v1M302.03 234.1v1M303.45 234.1v1M304.65 234.1v1M305.69 234.1v1M306.6 234.1v1M307.43 234.1v1.8M312.82 234.1v1M315.98 234.1v1M318.22 234.1v1M319.95 234.1v1M321.37 234.1v1M322.57 234.1v1M323.61 234.1v1M324.53 234.1v1M325.35 234.1v1.8M330.75 234.1v1M333.9 234.1v1M336.14 234.1v1M337.88 234.1v1M339.3 234.1v1M340.5 234.1v1M341.54 234.1v1M342.45 234.1v1M343.27 234.1v1.8M348.67 234.1v1M351.83 234.1v1M354.07 234.1v1M355.8 234.1v1M357.22 234.1v1M358.42 234.1v1M359.46 234.1v1M360.38 234.1v1" stroke="#555" stroke-width="0.5" fill="none"/>
<polygon points="290.08,233.8 290.08,233.23 290.08,216.92 290.85,218.46 291.62,226.15 292.38,228.46 293.46,224.62 295,215.38 296.54,206.15 298.08,196.92 299.62,190 301.15,186.92 302.69,181.54 304.23,173.85 305.46,167.69 306.54,165.85 307.62,173.85 308.54,183.08 309.62,193.85 310.69,202.31 311.92,204.62 313.15,205.38 314.23,208.46 315.77,206.15 317.31,203.08 318.85,200.77 320.38,199.69 321.92,198.46 323.46,200.31 325,201.85 326.54,203.85 328.08,205.85 329.62,208 331.15,210 332.69,213.85 334.23,219.23 335.77,224.62 337.31,227.69 339.62,230 341.92,232 345,232.92 360.9,233.23 360.9,233.8" fill="#ababab"/>
<polyline points="290.08,233.23 290.08,216.92 290.85,218.46 291.62,226.15 292.38,228.46 293.46,224.62 295,215.38 296.54,206.15 298.08,196.92 299.62,190 301.15,186.92 302.69,181.54 304.23,173.85 305.46,167.69 306.54,165.85 307.62,173.85 308.54,183.08 309.62,193.85 310.69,202.31 311.92,204.62 313.15,205.38 314.23,208.46 315.77,206.15 317.31,203.08 318.85,200.77 320.38,199.69 321.92,198.46 323.46,200.31 325,201.85 326.54,203.85 328.08,205.85 329.62,208 331.15,210 332.69,213.85 334.23,219.23 335.77,224.62 337.31,227.69 339.62,230 341.92,232 345,232.92 360.9,233.23" fill="none" stroke="#333" stroke-width="1.05" stroke-linejoin="round"/>
<path d="M287.7 233.8H361.2" stroke="#333" stroke-width="1.2"/>
<path d="M315.77 200H361.2M316.07 198.5v3M361 198.3v3.4" stroke="#222" stroke-width="1.3" fill="none"/>
<text transform="translate(342.1 198.09) scale(1 1.06)" font-size="14.6" stroke-width="0.35">39</text>
</g>
<g>
<rect x="366.6" y="162.8" width="71.7" height="71.6" fill="#fff" stroke="#747474" stroke-width="1"/>
<path d="M366.8 233.8h-2.3M366.8 230.25h-1.4M366.8 226.7h-1.4M366.8 223.15h-1.4M366.8 219.6h-1.4M366.8 216.05h-2.3M366.8 212.5h-1.4M366.8 208.95h-1.4M366.8 205.4h-1.4M366.8 201.85h-1.4M366.8 198.3h-2.3M366.8 194.75h-1.4M366.8 191.2h-1.4M366.8 187.65h-1.4M366.8 184.1h-1.4M366.8 180.55h-2.3M366.8 177h-1.4M366.8 173.45h-1.4M366.8 169.9h-1.4M366.8 166.35h-1.4M366.8 162.8h-2.3" stroke="#4a4a4a" stroke-width="0.8" fill="none"/>
<path d="M366.5 162.8V233.8" stroke="#555" stroke-width="1" fill="none"/>
<path d="M366.6 234.1v1.8M372 234.1v1M375.15 234.1v1M377.39 234.1v1M379.13 234.1v1M380.55 234.1v1M381.75 234.1v1M382.79 234.1v1M383.7 234.1v1M384.53 234.1v1.8M389.92 234.1v1M393.08 234.1v1M395.32 234.1v1M397.05 234.1v1M398.47 234.1v1M399.67 234.1v1M400.71 234.1v1M401.63 234.1v1M402.45 234.1v1.8M407.85 234.1v1M411 234.1v1M413.24 234.1v1M414.98 234.1v1M416.4 234.1v1M417.6 234.1v1M418.64 234.1v1M419.55 234.1v1M420.38 234.1v1.8M425.77 234.1v1M428.93 234.1v1M431.17 234.1v1M432.9 234.1v1M434.32 234.1v1M435.52 234.1v1M436.56 234.1v1M437.48 234.1v1" stroke="#555" stroke-width="0.5" fill="none"/>
<polygon points="366.9,233.8 366.9,233.08 369.69,232.31 371.54,227.69 373.08,220.77 374.62,212.31 376.15,204.62 377.69,199.23 379.23,196.62 380.46,195.69 381.69,200 383.08,201.23 384.31,204.62 385.85,207.69 387.38,210.46 388.92,211.54 390.46,213.08 392,210.77 393.54,208.46 395.08,206.15 396.62,203.85 398.15,200.77 399.38,198.46 400.46,199.69 401.69,196.15 402.77,193.08 403.85,186.15 405.08,180 406.15,177.69 407.38,173.85 408.46,168.46 409.38,166.46 410.46,166.15 411.23,169.23 412.31,180 413.54,193.85 414.77,206.15 415.85,216.92 417.08,224.62 418.31,229.23 419.85,232 422,232.92 438,233.23 438,233.8" fill="#ababab"/>
<polyline points="366.9,233.08 369.69,232.31 371.54,227.69 373.08,220.77 374.62,212.31 376.15,204.62 377.69,199.23 379.23,196.62 380.46,195.69 381.69,200 383.08,201.23 384.31,204.62 385.85,207.69 387.38,210.46 388.92,211.54 390.46,213.08 392,210.77 393.54,208.46 395.08,206.15 396.62,203.85 398.15,200.77 399.38,198.46 400.46,199.69 401.69,196.15 402.77,193.08 403.85,186.15 405.08,180 406.15,177.69 407.38,173.85 408.46,168.46 409.38,166.46 410.46,166.15 411.23,169.23 412.31,180 413.54,193.85 414.77,206.15 415.85,216.92 417.08,224.62 418.31,229.23 419.85,232 422,232.92 438,233.23" fill="none" stroke="#333" stroke-width="1.05" stroke-linejoin="round"/>
<path d="M364.8 233.8H438.3" stroke="#333" stroke-width="1.2"/>
<path d="M392.77 200H438.15M393.07 198.5v3M437.95 198.3v3.4" stroke="#222" stroke-width="1.3" fill="none"/>
<text transform="translate(418.83 198.09) scale(1 1.06)" font-size="14.6" stroke-width="0.35">66</text>
</g>
<g>
<rect x="443.4" y="162.8" width="71.7" height="71.6" fill="#fff" stroke="#747474" stroke-width="1"/>
<path d="M443.6 233.8h-2.3M443.6 230.25h-1.4M443.6 226.7h-1.4M443.6 223.15h-1.4M443.6 219.6h-1.4M443.6 216.05h-2.3M443.6 212.5h-1.4M443.6 208.95h-1.4M443.6 205.4h-1.4M443.6 201.85h-1.4M443.6 198.3h-2.3M443.6 194.75h-1.4M443.6 191.2h-1.4M443.6 187.65h-1.4M443.6 184.1h-1.4M443.6 180.55h-2.3M443.6 177h-1.4M443.6 173.45h-1.4M443.6 169.9h-1.4M443.6 166.35h-1.4M443.6 162.8h-2.3" stroke="#4a4a4a" stroke-width="0.8" fill="none"/>
<path d="M443.3 162.8V233.8" stroke="#555" stroke-width="1" fill="none"/>
<path d="M443.4 234.1v1.8M448.8 234.1v1M451.95 234.1v1M454.19 234.1v1M455.93 234.1v1M457.35 234.1v1M458.55 234.1v1M459.59 234.1v1M460.5 234.1v1M461.32 234.1v1.8M466.72 234.1v1M469.88 234.1v1M472.12 234.1v1M473.85 234.1v1M475.27 234.1v1M476.47 234.1v1M477.51 234.1v1M478.43 234.1v1M479.25 234.1v1.8M484.65 234.1v1M487.8 234.1v1M490.04 234.1v1M491.78 234.1v1M493.2 234.1v1M494.4 234.1v1M495.44 234.1v1M496.35 234.1v1M497.17 234.1v1.8M502.57 234.1v1M505.73 234.1v1M507.97 234.1v1M509.7 234.1v1M511.12 234.1v1M512.32 234.1v1M513.36 234.1v1M514.28 234.1v1" stroke="#555" stroke-width="0.5" fill="none"/>
<polygon points="443.92,233.8 443.92,232.92 443.92,225.38 444.69,226.15 445.46,228.46 446.69,227.69 447.92,223.08 449.15,212.31 450.54,200 451.77,189.23 452.85,178.46 453.77,169.23 454.38,164.92 455.46,167.69 456.38,170 457.46,172.31 458.54,173.85 459.31,187.69 460.23,178.46 461,173.85 461.77,183.08 462.54,193.85 463.62,204.62 464.85,212.31 466.38,216.92 468.23,219.69 469.77,220.77 471.31,218.46 472.85,217.23 474.38,214.62 475.92,213.08 477,214.62 478.23,210.77 479.46,206.15 480.54,203.08 481.77,200.77 482.85,203.08 484.08,203.85 485.15,200.77 486.38,196.15 487.15,200.77 488.23,206.15 489.46,212.31 491,220 492.54,225.38 494.08,229.23 495.92,231.54 498.23,232.62 514.8,233.08 514.8,233.8" fill="#ababab"/>
<polyline points="443.92,232.92 443.92,225.38 444.69,226.15 445.46,228.46 446.69,227.69 447.92,223.08 449.15,212.31 450.54,200 451.77,189.23 452.85,178.46 453.77,169.23 454.38,164.92 455.46,167.69 456.38,170 457.46,172.31 458.54,173.85 459.31,187.69 460.23,178.46 461,173.85 461.77,183.08 462.54,193.85 463.62,204.62 464.85,212.31 466.38,216.92 468.23,219.69 469.77,220.77 471.31,218.46 472.85,217.23 474.38,214.62 475.92,213.08 477,214.62 478.23,210.77 479.46,206.15 480.54,203.08 481.77,200.77 482.85,203.08 484.08,203.85 485.15,200.77 486.38,196.15 487.15,200.77 488.23,206.15 489.46,212.31 491,220 492.54,225.38 494.08,229.23 495.92,231.54 498.23,232.62 514.8,233.08" fill="none" stroke="#333" stroke-width="1.05" stroke-linejoin="round"/>
<path d="M441.6 233.8H515.1" stroke="#333" stroke-width="1.2"/>
<path d="M469.77 200H515.1M470.07 198.5v3M514.9 198.3v3.4" stroke="#222" stroke-width="1.3" fill="none"/>
<text transform="translate(497.6 198.09) scale(1 1.06)" font-size="14.6" stroke-width="0.35">49</text>
</g>
<g>
<rect x="30.5" y="275.5" width="71.4" height="71.6" fill="#fff" stroke="#747474" stroke-width="1"/>
<path d="M30.7 346.5h-2.3M30.7 342.95h-1.4M30.7 339.4h-1.4M30.7 335.85h-1.4M30.7 332.3h-1.4M30.7 328.75h-2.3M30.7 325.2h-1.4M30.7 321.65h-1.4M30.7 318.1h-1.4M30.7 314.55h-1.4M30.7 311h-2.3M30.7 307.45h-1.4M30.7 303.9h-1.4M30.7 300.35h-1.4M30.7 296.8h-1.4M30.7 293.25h-2.3M30.7 289.7h-1.4M30.7 286.15h-1.4M30.7 282.6h-1.4M30.7 279.05h-1.4M30.7 275.5h-2.3" stroke="#4a4a4a" stroke-width="0.8" fill="none"/>
<path d="M30.4 275.5V346.5" stroke="#555" stroke-width="1" fill="none"/>
<path d="M30.5 346.8v1.8M35.87 346.8v1M39.02 346.8v1M41.25 346.8v1M42.98 346.8v1M44.39 346.8v1M45.59 346.8v1M46.62 346.8v1M47.53 346.8v1M48.35 346.8v1.8M53.72 346.8v1M56.87 346.8v1M59.1 346.8v1M60.83 346.8v1M62.24 346.8v1M63.44 346.8v1M64.47 346.8v1M65.38 346.8v1M66.2 346.8v1.8M71.57 346.8v1M74.72 346.8v1M76.95 346.8v1M78.68 346.8v1M80.09 346.8v1M81.29 346.8v1M82.32 346.8v1M83.23 346.8v1M84.05 346.8v1.8M89.42 346.8v1M92.57 346.8v1M94.8 346.8v1M96.53 346.8v1M97.94 346.8v1M99.14 346.8v1M100.17 346.8v1M101.08 346.8v1" stroke="#555" stroke-width="0.5" fill="none"/>
<polygon points="31.08,346.5 31.08,345.85 32.15,342 33.23,333.54 34.46,322.77 35.69,313.54 36.77,307.69 37.85,308.92 38.77,305.85 39.85,301.23 40.92,295.08 42.15,288.92 43.23,286.62 44.15,284.31 45.23,286.62 46,282.77 46.77,278.46 47.54,284.31 48.31,295.08 49.08,307.38 49.85,318.15 50.62,327.38 51.54,335.08 52.46,339.69 53.69,342.77 55.54,344.31 58.31,345.08 66,345.54 79.85,345.69 90.62,345.85 101.6,346 101.6,346.5" fill="#ababab"/>
<polyline points="31.08,345.85 32.15,342 33.23,333.54 34.46,322.77 35.69,313.54 36.77,307.69 37.85,308.92 38.77,305.85 39.85,301.23 40.92,295.08 42.15,288.92 43.23,286.62 44.15,284.31 45.23,286.62 46,282.77 46.77,278.46 47.54,284.31 48.31,295.08 49.08,307.38 49.85,318.15 50.62,327.38 51.54,335.08 52.46,339.69 53.69,342.77 55.54,344.31 58.31,345.08 66,345.54 79.85,345.69 90.62,345.85 101.6,346" fill="none" stroke="#333" stroke-width="1.05" stroke-linejoin="round"/>
<path d="M28.7 346.5H101.9" stroke="#333" stroke-width="1.2"/>
<path d="M54 316.15H101.9M54.3 314.65v3M101.7 314.45v3.4" stroke="#222" stroke-width="1.3" fill="none"/>
<text transform="translate(85.2 313.63) scale(1 1.06)" font-size="14.6" stroke-width="0.35">1</text>
</g>
<g>
<rect x="107.4" y="275.5" width="71.4" height="71.6" fill="#fff" stroke="#747474" stroke-width="1"/>
<path d="M107.6 346.5h-2.3M107.6 342.95h-1.4M107.6 339.4h-1.4M107.6 335.85h-1.4M107.6 332.3h-1.4M107.6 328.75h-2.3M107.6 325.2h-1.4M107.6 321.65h-1.4M107.6 318.1h-1.4M107.6 314.55h-1.4M107.6 311h-2.3M107.6 307.45h-1.4M107.6 303.9h-1.4M107.6 300.35h-1.4M107.6 296.8h-1.4M107.6 293.25h-2.3M107.6 289.7h-1.4M107.6 286.15h-1.4M107.6 282.6h-1.4M107.6 279.05h-1.4M107.6 275.5h-2.3" stroke="#4a4a4a" stroke-width="0.8" fill="none"/>
<path d="M107.3 275.5V346.5" stroke="#555" stroke-width="1" fill="none"/>
<path d="M107.4 346.8v1.8M112.77 346.8v1M115.92 346.8v1M118.15 346.8v1M119.88 346.8v1M121.29 346.8v1M122.49 346.8v1M123.52 346.8v1M124.43 346.8v1M125.25 346.8v1.8M130.62 346.8v1M133.77 346.8v1M136 346.8v1M137.73 346.8v1M139.14 346.8v1M140.34 346.8v1M141.37 346.8v1M142.28 346.8v1M143.1 346.8v1.8M148.47 346.8v1M151.62 346.8v1M153.85 346.8v1M155.58 346.8v1M156.99 346.8v1M158.19 346.8v1M159.22 346.8v1M160.13 346.8v1M160.95 346.8v1.8M166.32 346.8v1M169.47 346.8v1M171.7 346.8v1M173.43 346.8v1M174.84 346.8v1M176.04 346.8v1M177.07 346.8v1M177.98 346.8v1" stroke="#555" stroke-width="0.5" fill="none"/>
<polygon points="107.92,346.5 107.92,345.85 108.85,342.77 109.92,333.54 111,324.31 112.23,318.15 113.46,314.31 114.69,308.92 115.92,301.23 117.15,295.08 118.38,293.54 119.46,288.92 120.38,282.77 121.46,279.38 122.54,278.92 123.46,284.31 124.54,290.46 125.46,299.69 126.38,312 127.31,324.31 128.23,333.54 129.15,339.69 130.38,342.46 132.23,343.38 135.31,343.69 139.92,344 144.54,344.31 149.15,344.62 153.77,345.08 159.92,345.54 167.62,345.85 178.5,346 178.5,346.5" fill="#ababab"/>
<polyline points="107.92,345.85 108.85,342.77 109.92,333.54 111,324.31 112.23,318.15 113.46,314.31 114.69,308.92 115.92,301.23 117.15,295.08 118.38,293.54 119.46,288.92 120.38,282.77 121.46,279.38 122.54,278.92 123.46,284.31 124.54,290.46 125.46,299.69 126.38,312 127.31,324.31 128.23,333.54 129.15,339.69 130.38,342.46 132.23,343.38 135.31,343.69 139.92,344 144.54,344.31 149.15,344.62 153.77,345.08 159.92,345.54 167.62,345.85 178.5,346" fill="none" stroke="#333" stroke-width="1.05" stroke-linejoin="round"/>
<path d="M105.6 346.5H178.8" stroke="#333" stroke-width="1.2"/>
<path d="M130.69 316.15H178.69M130.99 314.65v3M178.49 314.45v3.4" stroke="#222" stroke-width="1.3" fill="none"/>
<text transform="translate(160.1 313.63) scale(1 1.06)" font-size="14.6" stroke-width="0.35">5</text>
</g>
<g>
<rect x="184.3" y="275.5" width="71.4" height="71.6" fill="#fff" stroke="#747474" stroke-width="1"/>
<path d="M184.5 346.5h-2.3M184.5 342.95h-1.4M184.5 339.4h-1.4M184.5 335.85h-1.4M184.5 332.3h-1.4M184.5 328.75h-2.3M184.5 325.2h-1.4M184.5 321.65h-1.4M184.5 318.1h-1.4M184.5 314.55h-1.4M184.5 311h-2.3M184.5 307.45h-1.4M184.5 303.9h-1.4M184.5 300.35h-1.4M184.5 296.8h-1.4M184.5 293.25h-2.3M184.5 289.7h-1.4M184.5 286.15h-1.4M184.5 282.6h-1.4M184.5 279.05h-1.4M184.5 275.5h-2.3" stroke="#4a4a4a" stroke-width="0.8" fill="none"/>
<path d="M184.2 275.5V346.5" stroke="#555" stroke-width="1" fill="none"/>
<path d="M184.3 346.8v1.8M189.67 346.8v1M192.82 346.8v1M195.05 346.8v1M196.78 346.8v1M198.19 346.8v1M199.39 346.8v1M200.42 346.8v1M201.33 346.8v1M202.15 346.8v1.8M207.52 346.8v1M210.67 346.8v1M212.9 346.8v1M214.63 346.8v1M216.04 346.8v1M217.24 346.8v1M218.27 346.8v1M219.18 346.8v1M220 346.8v1.8M225.37 346.8v1M228.52 346.8v1M230.75 346.8v1M232.48 346.8v1M233.89 346.8v1M235.09 346.8v1M236.12 346.8v1M237.03 346.8v1M237.85 346.8v1.8M243.22 346.8v1M246.37 346.8v1M248.6 346.8v1M250.33 346.8v1M251.74 346.8v1M252.94 346.8v1M253.97 346.8v1M254.88 346.8v1" stroke="#555" stroke-width="0.5" fill="none"/>
<polygon points="184.92,346.5 184.92,345.85 186.15,343.54 187.38,338.15 188.62,334.31 189.85,332.77 191.08,327.38 192.31,321.23 193.54,316.62 194.62,310.46 195.69,304.31 196.62,298.15 197.54,295.08 198.46,293.54 199.38,288.92 200.31,284.31 201.23,278.92 202,284.31 202.77,292 203.54,302.77 204.31,313.54 205.23,324.31 206.15,332 207.23,338.15 208.46,342 210,344 212.31,344.92 218.46,345.54 230.77,345.85 255.4,346 255.4,346.5" fill="#ababab"/>
<polyline points="184.92,345.85 186.15,343.54 187.38,338.15 188.62,334.31 189.85,332.77 191.08,327.38 192.31,321.23 193.54,316.62 194.62,310.46 195.69,304.31 196.62,298.15 197.54,295.08 198.46,293.54 199.38,288.92 200.31,284.31 201.23,278.92 202,284.31 202.77,292 203.54,302.77 204.31,313.54 205.23,324.31 206.15,332 207.23,338.15 208.46,342 210,344 212.31,344.92 218.46,345.54 230.77,345.85 255.4,346" fill="none" stroke="#333" stroke-width="1.05" stroke-linejoin="round"/>
<path d="M182.5 346.5H255.7" stroke="#333" stroke-width="1.2"/>
<path d="M207.69 316.15H255.69M207.99 314.65v3M255.49 314.45v3.4" stroke="#222" stroke-width="1.3" fill="none"/>
<text transform="translate(235.05 313.63) scale(1 1.06)" font-size="14.6" stroke-width="0.35">3</text>
</g>
<g>
<rect x="30.5" y="351.5" width="71.4" height="71.6" fill="#fff" stroke="#747474" stroke-width="1"/>
<path d="M30.7 422.5h-2.3M30.7 418.95h-1.4M30.7 415.4h-1.4M30.7 411.85h-1.4M30.7 408.3h-1.4M30.7 404.75h-2.3M30.7 401.2h-1.4M30.7 397.65h-1.4M30.7 394.1h-1.4M30.7 390.55h-1.4M30.7 387h-2.3M30.7 383.45h-1.4M30.7 379.9h-1.4M30.7 376.35h-1.4M30.7 372.8h-1.4M30.7 369.25h-2.3M30.7 365.7h-1.4M30.7 362.15h-1.4M30.7 358.6h-1.4M30.7 355.05h-1.4M30.7 351.5h-2.3" stroke="#4a4a4a" stroke-width="0.8" fill="none"/>
<path d="M30.4 351.5V422.5" stroke="#555" stroke-width="1" fill="none"/>
<path d="M30.5 422.8v1.8M35.87 422.8v1M39.02 422.8v1M41.25 422.8v1M42.98 422.8v1M44.39 422.8v1M45.59 422.8v1M46.62 422.8v1M47.53 422.8v1M48.35 422.8v1.8M53.72 422.8v1M56.87 422.8v1M59.1 422.8v1M60.83 422.8v1M62.24 422.8v1M63.44 422.8v1M64.47 422.8v1M65.38 422.8v1M66.2 422.8v1.8M71.57 422.8v1M74.72 422.8v1M76.95 422.8v1M78.68 422.8v1M80.09 422.8v1M81.29 422.8v1M82.32 422.8v1M83.23 422.8v1M84.05 422.8v1.8M89.42 422.8v1M92.57 422.8v1M94.8 422.8v1M96.53 422.8v1M97.94 422.8v1M99.14 422.8v1M100.17 422.8v1M101.08 422.8v1" stroke="#555" stroke-width="0.5" fill="none"/>
<polygon points="31.08,422.5 31.08,421.85 32.15,418.77 33.23,412.62 34.46,404.92 35.54,398.77 36.77,395.69 38,390.31 39.23,384.92 40.31,384.15 41.38,377.23 42.31,369.54 43.23,361.08 44.15,363.38 45.08,358.77 46,354.92 46.77,354.46 47.54,358.77 48.46,364.92 49.38,374.15 50.31,381.85 51.08,392.62 51.85,401.85 52.77,409.54 53.69,414.15 55.23,418 57.54,420 61.38,420.62 67.54,420.77 72.15,420.46 76.77,420.92 79.08,420.62 82.92,421.54 90.62,421.85 101.6,422 101.6,422.5" fill="#ababab"/>
<polyline points="31.08,421.85 32.15,418.77 33.23,412.62 34.46,404.92 35.54,398.77 36.77,395.69 38,390.31 39.23,384.92 40.31,384.15 41.38,377.23 42.31,369.54 43.23,361.08 44.15,363.38 45.08,358.77 46,354.92 46.77,354.46 47.54,358.77 48.46,364.92 49.38,374.15 50.31,381.85 51.08,392.62 51.85,401.85 52.77,409.54 53.69,414.15 55.23,418 57.54,420 61.38,420.62 67.54,420.77 72.15,420.46 76.77,420.92 79.08,420.62 82.92,421.54 90.62,421.85 101.6,422" fill="none" stroke="#333" stroke-width="1.05" stroke-linejoin="round"/>
<path d="M28.7 422.5H101.9" stroke="#333" stroke-width="1.2"/>
<path d="M57.54 391.08H101.9M57.84 389.58v3M101.7 389.38v3.4" stroke="#222" stroke-width="1.3" fill="none"/>
<text transform="translate(88.53 389.17) scale(1 1.06)" font-size="14.6" stroke-width="0.35">4</text>
</g>
<g>
<rect x="107.4" y="351.5" width="71.4" height="71.6" fill="#fff" stroke="#747474" stroke-width="1"/>
<path d="M107.6 422.5h-2.3M107.6 418.95h-1.4M107.6 415.4h-1.4M107.6 411.85h-1.4M107.6 408.3h-1.4M107.6 404.75h-2.3M107.6 401.2h-1.4M107.6 397.65h-1.4M107.6 394.1h-1.4M107.6 390.55h-1.4M107.6 387h-2.3M107.6 383.45h-1.4M107.6 379.9h-1.4M107.6 376.35h-1.4M107.6 372.8h-1.4M107.6 369.25h-2.3M107.6 365.7h-1.4M107.6 362.15h-1.4M107.6 358.6h-1.4M107.6 355.05h-1.4M107.6 351.5h-2.3" stroke="#4a4a4a" stroke-width="0.8" fill="none"/>
<path d="M107.3 351.5V422.5" stroke="#555" stroke-width="1" fill="none"/>
<path d="M107.4 422.8v1.8M112.77 422.8v1M115.92 422.8v1M118.15 422.8v1M119.88 422.8v1M121.29 422.8v1M122.49 422.8v1M123.52 422.8v1M124.43 422.8v1M125.25 422.8v1.8M130.62 422.8v1M133.77 422.8v1M136 422.8v1M137.73 422.8v1M139.14 422.8v1M140.34 422.8v1M141.37 422.8v1M142.28 422.8v1M143.1 422.8v1.8M148.47 422.8v1M151.62 422.8v1M153.85 422.8v1M155.58 422.8v1M156.99 422.8v1M158.19 422.8v1M159.22 422.8v1M160.13 422.8v1M160.95 422.8v1.8M166.32 422.8v1M169.47 422.8v1M171.7 422.8v1M173.43 422.8v1M174.84 422.8v1M176.04 422.8v1M177.07 422.8v1M177.98 422.8v1" stroke="#555" stroke-width="0.5" fill="none"/>
<polygon points="107.92,422.5 107.92,421.85 109.15,419.54 110.23,412.62 111.46,408 113,403.38 114.54,398.77 116.08,391.08 117.62,381.85 119.15,372.62 120.69,363.38 121.77,357.23 122.69,354.92 123.62,358.77 124.54,361.85 125.46,369.54 126.38,380.31 127.31,391.08 128.23,400.31 129.15,407.23 130.23,411.85 131.77,412.92 133.77,412.31 135.62,411.08 137.62,409.54 139.46,408.31 141.46,408.77 143.31,409.54 145.31,408.77 147.31,408.31 148.85,405.69 150.69,404.92 152.54,405.23 154.23,406.46 155.77,409.54 157.62,411.38 159.46,414.15 161.46,416.46 163.31,418.77 165.31,420.31 167.62,421.38 170.69,421.85 178.5,422 178.5,422.5" fill="#ababab"/>
<polyline points="107.92,421.85 109.15,419.54 110.23,412.62 111.46,408 113,403.38 114.54,398.77 116.08,391.08 117.62,381.85 119.15,372.62 120.69,363.38 121.77,357.23 122.69,354.92 123.62,358.77 124.54,361.85 125.46,369.54 126.38,380.31 127.31,391.08 128.23,400.31 129.15,407.23 130.23,411.85 131.77,412.92 133.77,412.31 135.62,411.08 137.62,409.54 139.46,408.31 141.46,408.77 143.31,409.54 145.31,408.77 147.31,408.31 148.85,405.69 150.69,404.92 152.54,405.23 154.23,406.46 155.77,409.54 157.62,411.38 159.46,414.15 161.46,416.46 163.31,418.77 165.31,420.31 167.62,421.38 170.69,421.85 178.5,422" fill="none" stroke="#333" stroke-width="1.05" stroke-linejoin="round"/>
<path d="M105.6 422.5H178.8" stroke="#333" stroke-width="1.2"/>
<path d="M134.23 391.08H178.69M134.53 389.58v3M178.49 389.38v3.4" stroke="#222" stroke-width="1.3" fill="none"/>
<text transform="translate(161.12 388.71) scale(1 1.06)" font-size="14.6" stroke-width="0.35">32</text>
</g>
<g>
<rect x="184.3" y="351.5" width="71.4" height="71.6" fill="#fff" stroke="#747474" stroke-width="1"/>
<path d="M184.5 422.5h-2.3M184.5 418.95h-1.4M184.5 415.4h-1.4M184.5 411.85h-1.4M184.5 408.3h-1.4M184.5 404.75h-2.3M184.5 401.2h-1.4M184.5 397.65h-1.4M184.5 394.1h-1.4M184.5 390.55h-1.4M184.5 387h-2.3M184.5 383.45h-1.4M184.5 379.9h-1.4M184.5 376.35h-1.4M184.5 372.8h-1.4M184.5 369.25h-2.3M184.5 365.7h-1.4M184.5 362.15h-1.4M184.5 358.6h-1.4M184.5 355.05h-1.4M184.5 351.5h-2.3" stroke="#4a4a4a" stroke-width="0.8" fill="none"/>
<path d="M184.2 351.5V422.5" stroke="#555" stroke-width="1" fill="none"/>
<path d="M184.3 422.8v1.8M189.67 422.8v1M192.82 422.8v1M195.05 422.8v1M196.78 422.8v1M198.19 422.8v1M199.39 422.8v1M200.42 422.8v1M201.33 422.8v1M202.15 422.8v1.8M207.52 422.8v1M210.67 422.8v1M212.9 422.8v1M214.63 422.8v1M216.04 422.8v1M217.24 422.8v1M218.27 422.8v1M219.18 422.8v1M220 422.8v1.8M225.37 422.8v1M228.52 422.8v1M230.75 422.8v1M232.48 422.8v1M233.89 422.8v1M235.09 422.8v1M236.12 422.8v1M237.03 422.8v1M237.85 422.8v1.8M243.22 422.8v1M246.37 422.8v1M248.6 422.8v1M250.33 422.8v1M251.74 422.8v1M252.94 422.8v1M253.97 422.8v1M254.88 422.8v1" stroke="#555" stroke-width="0.5" fill="none"/>
<polygon points="184.92,422.5 184.92,421.85 186.15,419.54 187.38,413.38 188.62,408 189.85,404.92 191.08,404.15 192.31,397.23 193.54,389.54 194.77,381.85 196,376.46 197.23,374.15 198.15,366.46 199.08,360.31 200,358 200.92,357.23 201.54,355.38 202.31,358.77 203.08,363.38 204,372.62 204.92,383.38 205.85,392.62 206.77,400.31 207.69,407.23 208.92,410.31 210.46,411.38 212.31,411.85 213.85,410.31 215.69,410.77 217.69,411.08 220,411.38 222.31,411.08 224.62,411.38 226.62,411.08 228,409.23 229.54,409.23 230.77,411.08 232.31,414.15 234.15,416.46 236.15,418 238.46,418.77 240.31,420.31 242.31,421.54 246.15,421.85 255.4,422 255.4,422.5" fill="#ababab"/>
<polyline points="184.92,421.85 186.15,419.54 187.38,413.38 188.62,408 189.85,404.92 191.08,404.15 192.31,397.23 193.54,389.54 194.77,381.85 196,376.46 197.23,374.15 198.15,366.46 199.08,360.31 200,358 200.92,357.23 201.54,355.38 202.31,358.77 203.08,363.38 204,372.62 204.92,383.38 205.85,392.62 206.77,400.31 207.69,407.23 208.92,410.31 210.46,411.38 212.31,411.85 213.85,410.31 215.69,410.77 217.69,411.08 220,411.38 222.31,411.08 224.62,411.38 226.62,411.08 228,409.23 229.54,409.23 230.77,411.08 232.31,414.15 234.15,416.46 236.15,418 238.46,418.77 240.31,420.31 242.31,421.54 246.15,421.85 255.4,422" fill="none" stroke="#333" stroke-width="1.05" stroke-linejoin="round"/>
<path d="M182.5 422.5H255.7" stroke="#333" stroke-width="1.2"/>
<path d="M211.23 391.08H255.69M211.53 389.58v3M255.49 389.38v3.4" stroke="#222" stroke-width="1.3" fill="none"/>
<text transform="translate(235.96 388.71) scale(1 1.06)" font-size="14.6" stroke-width="0.35">24</text>
</g>
<g>
<rect x="30.5" y="427.3" width="71.4" height="71.6" fill="#fff" stroke="#747474" stroke-width="1"/>
<path d="M30.7 498.3h-2.3M30.7 494.75h-1.4M30.7 491.2h-1.4M30.7 487.65h-1.4M30.7 484.1h-1.4M30.7 480.55h-2.3M30.7 477h-1.4M30.7 473.45h-1.4M30.7 469.9h-1.4M30.7 466.35h-1.4M30.7 462.8h-2.3M30.7 459.25h-1.4M30.7 455.7h-1.4M30.7 452.15h-1.4M30.7 448.6h-1.4M30.7 445.05h-2.3M30.7 441.5h-1.4M30.7 437.95h-1.4M30.7 434.4h-1.4M30.7 430.85h-1.4M30.7 427.3h-2.3" stroke="#4a4a4a" stroke-width="0.8" fill="none"/>
<path d="M30.4 427.3V498.3" stroke="#555" stroke-width="1" fill="none"/>
<path d="M30.5 498.6v1.8M35.87 498.6v1M39.02 498.6v1M41.25 498.6v1M42.98 498.6v1M44.39 498.6v1M45.59 498.6v1M46.62 498.6v1M47.53 498.6v1M48.35 498.6v1.8M53.72 498.6v1M56.87 498.6v1M59.1 498.6v1M60.83 498.6v1M62.24 498.6v1M63.44 498.6v1M64.47 498.6v1M65.38 498.6v1M66.2 498.6v1.8M71.57 498.6v1M74.72 498.6v1M76.95 498.6v1M78.68 498.6v1M80.09 498.6v1M81.29 498.6v1M82.32 498.6v1M83.23 498.6v1M84.05 498.6v1.8M89.42 498.6v1M92.57 498.6v1M94.8 498.6v1M96.53 498.6v1M97.94 498.6v1M99.14 498.6v1M100.17 498.6v1M101.08 498.6v1" stroke="#555" stroke-width="0.5" fill="none"/>
<polygon points="31.38,498.3 31.38,497.54 31.38,470.15 32.15,457.85 32.92,450.15 34,445.54 35.23,439.38 36.31,434.77 37.23,430.92 38,435.54 39.08,437.08 40.15,437.54 41.08,434 41.85,433.23 42.46,440.92 43.38,447.08 44.46,454.77 45.54,460.15 46.46,470.15 47.54,480.92 48.62,488.62 49.85,493.23 51.38,495.54 53.69,496.31 58.31,496.62 64.46,496.92 72.15,496.77 76,496.31 79.85,496.92 87.54,497.54 101.6,497.85 101.6,498.3" fill="#ababab"/>
<polyline points="31.38,497.54 31.38,470.15 32.15,457.85 32.92,450.15 34,445.54 35.23,439.38 36.31,434.77 37.23,430.92 38,435.54 39.08,437.08 40.15,437.54 41.08,434 41.85,433.23 42.46,440.92 43.38,447.08 44.46,454.77 45.54,460.15 46.46,470.15 47.54,480.92 48.62,488.62 49.85,493.23 51.38,495.54 53.69,496.31 58.31,496.62 64.46,496.92 72.15,496.77 76,496.31 79.85,496.92 87.54,497.54 101.6,497.85" fill="none" stroke="#333" stroke-width="1.05" stroke-linejoin="round"/>
<path d="M28.7 498.3H101.9" stroke="#333" stroke-width="1.2"/>
<path d="M52.46 465.08H101.9M52.76 463.58v3M101.7 463.38v3.4" stroke="#222" stroke-width="1.3" fill="none"/>
<text transform="translate(87.92 463.17) scale(1 1.06)" font-size="14.6" stroke-width="0.35">4</text>
</g>
<g>
<rect x="107.4" y="427.3" width="71.4" height="71.6" fill="#fff" stroke="#747474" stroke-width="1"/>
<path d="M107.6 498.3h-2.3M107.6 494.75h-1.4M107.6 491.2h-1.4M107.6 487.65h-1.4M107.6 484.1h-1.4M107.6 480.55h-2.3M107.6 477h-1.4M107.6 473.45h-1.4M107.6 469.9h-1.4M107.6 466.35h-1.4M107.6 462.8h-2.3M107.6 459.25h-1.4M107.6 455.7h-1.4M107.6 452.15h-1.4M107.6 448.6h-1.4M107.6 445.05h-2.3M107.6 441.5h-1.4M107.6 437.95h-1.4M107.6 434.4h-1.4M107.6 430.85h-1.4M107.6 427.3h-2.3" stroke="#4a4a4a" stroke-width="0.8" fill="none"/>
<path d="M107.3 427.3V498.3" stroke="#555" stroke-width="1" fill="none"/>
<path d="M107.4 498.6v1.8M112.77 498.6v1M115.92 498.6v1M118.15 498.6v1M119.88 498.6v1M121.29 498.6v1M122.49 498.6v1M123.52 498.6v1M124.43 498.6v1M125.25 498.6v1.8M130.62 498.6v1M133.77 498.6v1M136 498.6v1M137.73 498.6v1M139.14 498.6v1M140.34 498.6v1M141.37 498.6v1M142.28 498.6v1M143.1 498.6v1.8M148.47 498.6v1M151.62 498.6v1M153.85 498.6v1M155.58 498.6v1M156.99 498.6v1M158.19 498.6v1M159.22 498.6v1M160.13 498.6v1M160.95 498.6v1.8M166.32 498.6v1M169.47 498.6v1M171.7 498.6v1M173.43 498.6v1M174.84 498.6v1M176.04 498.6v1M177.07 498.6v1M177.98 498.6v1" stroke="#555" stroke-width="0.5" fill="none"/>
<polygon points="108.08,498.3 108.08,497.54 108.08,473.23 108.85,462.46 109.92,456.31 111,454 111.92,447.08 113,445.54 113.77,437.85 114.69,430.92 115.62,437.08 116.54,433.23 117.31,430.46 118.08,437.85 119,440.15 119.92,438.62 120.85,437.08 121.46,435.54 122.23,440.92 123,450.15 123.92,451.69 124.85,460.92 125.77,468.62 126.85,474.77 127.92,477.85 129.15,476.31 130.69,477.54 132.23,477.08 133.77,477.85 135,475.54 136.23,473.23 137.46,470.92 138.38,468.62 139.31,467.08 140.23,470.15 141.46,473.23 143,475.54 144.54,478.62 146.08,481.69 147.62,483.23 149.15,485.54 150.38,484.77 151.62,484 152.85,486.31 154.08,489.38 155.31,491.69 156.85,493.54 158.38,494.46 159.62,494 161.15,495.08 163,496.31 165.31,497.38 169.15,497.85 178.5,498 178.5,498.3" fill="#ababab"/>
<polyline points="108.08,497.54 108.08,473.23 108.85,462.46 109.92,456.31 111,454 111.92,447.08 113,445.54 113.77,437.85 114.69,430.92 115.62,437.08 116.54,433.23 117.31,430.46 118.08,437.85 119,440.15 119.92,438.62 120.85,437.08 121.46,435.54 122.23,440.92 123,450.15 123.92,451.69 124.85,460.92 125.77,468.62 126.85,474.77 127.92,477.85 129.15,476.31 130.69,477.54 132.23,477.08 133.77,477.85 135,475.54 136.23,473.23 137.46,470.92 138.38,468.62 139.31,467.08 140.23,470.15 141.46,473.23 143,475.54 144.54,478.62 146.08,481.69 147.62,483.23 149.15,485.54 150.38,484.77 151.62,484 152.85,486.31 154.08,489.38 155.31,491.69 156.85,493.54 158.38,494.46 159.62,494 161.15,495.08 163,496.31 165.31,497.38 169.15,497.85 178.5,498" fill="none" stroke="#333" stroke-width="1.05" stroke-linejoin="round"/>
<path d="M105.6 498.3H178.8" stroke="#333" stroke-width="1.2"/>
<path d="M128.69 464.77H178.69M128.99 463.27v3M178.49 463.07v3.4" stroke="#222" stroke-width="1.3" fill="none"/>
<text transform="translate(158.52 462.86) scale(1 1.06)" font-size="14.6" stroke-width="0.35">35</text>
</g>
<g>
<rect x="184.3" y="427.3" width="71.4" height="71.6" fill="#fff" stroke="#747474" stroke-width="1"/>
<path d="M184.5 498.3h-2.3M184.5 494.75h-1.4M184.5 491.2h-1.4M184.5 487.65h-1.4M184.5 484.1h-1.4M184.5 480.55h-2.3M184.5 477h-1.4M184.5 473.45h-1.4M184.5 469.9h-1.4M184.5 466.35h-1.4M184.5 462.8h-2.3M184.5 459.25h-1.4M184.5 455.7h-1.4M184.5 452.15h-1.4M184.5 448.6h-1.4M184.5 445.05h-2.3M184.5 441.5h-1.4M184.5 437.95h-1.4M184.5 434.4h-1.4M184.5 430.85h-1.4M184.5 427.3h-2.3" stroke="#4a4a4a" stroke-width="0.8" fill="none"/>
<path d="M184.2 427.3V498.3" stroke="#555" stroke-width="1" fill="none"/>
<path d="M184.3 498.6v1.8M189.67 498.6v1M192.82 498.6v1M195.05 498.6v1M196.78 498.6v1M198.19 498.6v1M199.39 498.6v1M200.42 498.6v1M201.33 498.6v1M202.15 498.6v1.8M207.52 498.6v1M210.67 498.6v1M212.9 498.6v1M214.63 498.6v1M216.04 498.6v1M217.24 498.6v1M218.27 498.6v1M219.18 498.6v1M220 498.6v1.8M225.37 498.6v1M228.52 498.6v1M230.75 498.6v1M232.48 498.6v1M233.89 498.6v1M235.09 498.6v1M236.12 498.6v1M237.03 498.6v1M237.85 498.6v1.8M243.22 498.6v1M246.37 498.6v1M248.6 498.6v1M250.33 498.6v1M251.74 498.6v1M252.94 498.6v1M253.97 498.6v1M254.88 498.6v1" stroke="#555" stroke-width="0.5" fill="none"/>
<polygon points="184.92,498.3 184.92,497.54 184.92,485.54 185.85,470.15 186.92,454.77 188,445.54 188.92,439.38 190,440.15 191.08,435.54 192.31,437.08 193.54,435.54 194.46,430.92 195.38,436.31 196.31,440.92 197.23,442.46 198.15,447.08 199.08,447.85 200,456.31 200.92,464 201.85,466.31 202.77,473.23 203.85,477.08 205.38,480.92 206.92,483.23 208.46,485.54 210,486.31 211.54,483.23 213.08,482.77 214.62,483.69 216.15,483.23 217.69,484.77 219.23,487.08 220.77,487.85 222.31,487.38 223.85,489.38 226.15,491.69 228.46,492.46 230.77,493.23 233.08,494.46 235.38,495.54 238.46,496 241.54,497.08 246.15,497.85 255.4,498 255.4,498.3" fill="#ababab"/>
<polyline points="184.92,497.54 184.92,485.54 185.85,470.15 186.92,454.77 188,445.54 188.92,439.38 190,440.15 191.08,435.54 192.31,437.08 193.54,435.54 194.46,430.92 195.38,436.31 196.31,440.92 197.23,442.46 198.15,447.08 199.08,447.85 200,456.31 200.92,464 201.85,466.31 202.77,473.23 203.85,477.08 205.38,480.92 206.92,483.23 208.46,485.54 210,486.31 211.54,483.23 213.08,482.77 214.62,483.69 216.15,483.23 217.69,484.77 219.23,487.08 220.77,487.85 222.31,487.38 223.85,489.38 226.15,491.69 228.46,492.46 230.77,493.23 233.08,494.46 235.38,495.54 238.46,496 241.54,497.08 246.15,497.85 255.4,498" fill="none" stroke="#333" stroke-width="1.05" stroke-linejoin="round"/>
<path d="M182.5 498.3H255.7" stroke="#333" stroke-width="1.2"/>
<path d="M205.69 465.08H255.69M205.99 463.58v3M255.49 463.38v3.4" stroke="#222" stroke-width="1.3" fill="none"/>
<text transform="translate(237.88 462.86) scale(1 1.06)" font-size="14.6" stroke-width="0.35">24</text>
</g>
<g>
<rect x="289.5" y="275.5" width="71.7" height="71.6" fill="#fff" stroke="#747474" stroke-width="1"/>
<path d="M289.7 346.5h-2.3M289.7 342.95h-1.4M289.7 339.4h-1.4M289.7 335.85h-1.4M289.7 332.3h-1.4M289.7 328.75h-2.3M289.7 325.2h-1.4M289.7 321.65h-1.4M289.7 318.1h-1.4M289.7 314.55h-1.4M289.7 311h-2.3M289.7 307.45h-1.4M289.7 303.9h-1.4M289.7 300.35h-1.4M289.7 296.8h-1.4M289.7 293.25h-2.3M289.7 289.7h-1.4M289.7 286.15h-1.4M289.7 282.6h-1.4M289.7 279.05h-1.4M289.7 275.5h-2.3" stroke="#4a4a4a" stroke-width="0.8" fill="none"/>
<path d="M289.4 275.5V346.5" stroke="#555" stroke-width="1" fill="none"/>
<path d="M289.5 346.8v1.8M294.9 346.8v1M298.05 346.8v1M300.29 346.8v1M302.03 346.8v1M303.45 346.8v1M304.65 346.8v1M305.69 346.8v1M306.6 346.8v1M307.43 346.8v1.8M312.82 346.8v1M315.98 346.8v1M318.22 346.8v1M319.95 346.8v1M321.37 346.8v1M322.57 346.8v1M323.61 346.8v1M324.53 346.8v1M325.35 346.8v1.8M330.75 346.8v1M333.9 346.8v1M336.14 346.8v1M337.88 346.8v1M339.3 346.8v1M340.5 346.8v1M341.54 346.8v1M342.45 346.8v1M343.27 346.8v1.8M348.67 346.8v1M351.83 346.8v1M354.07 346.8v1M355.8 346.8v1M357.22 346.8v1M358.42 346.8v1M359.46 346.8v1M360.38 346.8v1" stroke="#555" stroke-width="0.5" fill="none"/>
<polygon points="289.92,346.5 289.92,345.85 291.92,345.08 293.46,342.77 294.69,336.62 295.77,324.31 296.85,307.38 297.92,290.46 298.85,281.23 299.62,278.46 300.38,282.77 301.31,295.08 302.23,310.46 303.15,324.31 304.23,335.08 305.46,340.46 307,343.54 308.85,344.92 312.69,345.69 360.9,346 360.9,346.5" fill="#ababab"/>
<polyline points="289.92,345.85 291.92,345.08 293.46,342.77 294.69,336.62 295.77,324.31 296.85,307.38 297.92,290.46 298.85,281.23 299.62,278.46 300.38,282.77 301.31,295.08 302.23,310.46 303.15,324.31 304.23,335.08 305.46,340.46 307,343.54 308.85,344.92 312.69,345.69 360.9,346" fill="none" stroke="#333" stroke-width="1.05" stroke-linejoin="round"/>
<path d="M287.7 346.5H361.2" stroke="#333" stroke-width="1.2"/>
<path d="M308.08 314.62H361.2M308.38 313.12v3M361 312.92v3.4" stroke="#222" stroke-width="1.3" fill="none"/>
<text transform="translate(340.35 312.71) scale(1 1.06)" font-size="14.6" stroke-width="0.35">1</text>
</g>
<g>
<rect x="366.6" y="275.5" width="71.7" height="71.6" fill="#fff" stroke="#747474" stroke-width="1"/>
<path d="M366.8 346.5h-2.3M366.8 342.95h-1.4M366.8 339.4h-1.4M366.8 335.85h-1.4M366.8 332.3h-1.4M366.8 328.75h-2.3M366.8 325.2h-1.4M366.8 321.65h-1.4M366.8 318.1h-1.4M366.8 314.55h-1.4M366.8 311h-2.3M366.8 307.45h-1.4M366.8 303.9h-1.4M366.8 300.35h-1.4M366.8 296.8h-1.4M366.8 293.25h-2.3M366.8 289.7h-1.4M366.8 286.15h-1.4M366.8 282.6h-1.4M366.8 279.05h-1.4M366.8 275.5h-2.3" stroke="#4a4a4a" stroke-width="0.8" fill="none"/>
<path d="M366.5 275.5V346.5" stroke="#555" stroke-width="1" fill="none"/>
<path d="M366.6 346.8v1.8M372 346.8v1M375.15 346.8v1M377.39 346.8v1M379.13 346.8v1M380.55 346.8v1M381.75 346.8v1M382.79 346.8v1M383.7 346.8v1M384.53 346.8v1.8M389.92 346.8v1M393.08 346.8v1M395.32 346.8v1M397.05 346.8v1M398.47 346.8v1M399.67 346.8v1M400.71 346.8v1M401.63 346.8v1M402.45 346.8v1.8M407.85 346.8v1M411 346.8v1M413.24 346.8v1M414.98 346.8v1M416.4 346.8v1M417.6 346.8v1M418.64 346.8v1M419.55 346.8v1M420.38 346.8v1.8M425.77 346.8v1M428.93 346.8v1M431.17 346.8v1M432.9 346.8v1M434.32 346.8v1M435.52 346.8v1M436.56 346.8v1M437.48 346.8v1" stroke="#555" stroke-width="0.5" fill="none"/>
<polygon points="366.9,346.5 366.9,345.85 369.69,345.08 371.23,342.77 372.46,335.08 373.54,319.69 374.62,302.77 375.54,288.92 376.46,281.23 377.23,278.92 378,284.31 378.92,296.62 379.85,310.46 380.77,321.23 382,330.46 383.54,335.85 385.38,338.15 387.38,339.38 389.69,340.46 392,341.23 394.31,342 396.62,343.08 398.92,344.31 402,345.08 408.15,345.69 438,346 438,346.5" fill="#ababab"/>
<polyline points="366.9,345.85 369.69,345.08 371.23,342.77 372.46,335.08 373.54,319.69 374.62,302.77 375.54,288.92 376.46,281.23 377.23,278.92 378,284.31 378.92,296.62 379.85,310.46 380.77,321.23 382,330.46 383.54,335.85 385.38,338.15 387.38,339.38 389.69,340.46 392,341.23 394.31,342 396.62,343.08 398.92,344.31 402,345.08 408.15,345.69 438,346" fill="none" stroke="#333" stroke-width="1.05" stroke-linejoin="round"/>
<path d="M364.8 346.5H438.3" stroke="#333" stroke-width="1.2"/>
<path d="M384.62 314.31H438.15M384.92 312.81v3M437.95 312.61v3.4" stroke="#222" stroke-width="1.3" fill="none"/>
<text transform="translate(410.93 312.4) scale(1 1.06)" font-size="14.6" stroke-width="0.35">15</text>
</g>
<g>
<rect x="443.4" y="275.5" width="71.7" height="71.6" fill="#fff" stroke="#747474" stroke-width="1"/>
<path d="M443.6 346.5h-2.3M443.6 342.95h-1.4M443.6 339.4h-1.4M443.6 335.85h-1.4M443.6 332.3h-1.4M443.6 328.75h-2.3M443.6 325.2h-1.4M443.6 321.65h-1.4M443.6 318.1h-1.4M443.6 314.55h-1.4M443.6 311h-2.3M443.6 307.45h-1.4M443.6 303.9h-1.4M443.6 300.35h-1.4M443.6 296.8h-1.4M443.6 293.25h-2.3M443.6 289.7h-1.4M443.6 286.15h-1.4M443.6 282.6h-1.4M443.6 279.05h-1.4M443.6 275.5h-2.3" stroke="#4a4a4a" stroke-width="0.8" fill="none"/>
<path d="M443.3 275.5V346.5" stroke="#555" stroke-width="1" fill="none"/>
<path d="M443.4 346.8v1.8M448.8 346.8v1M451.95 346.8v1M454.19 346.8v1M455.93 346.8v1M457.35 346.8v1M458.55 346.8v1M459.59 346.8v1M460.5 346.8v1M461.32 346.8v1.8M466.72 346.8v1M469.88 346.8v1M472.12 346.8v1M473.85 346.8v1M475.27 346.8v1M476.47 346.8v1M477.51 346.8v1M478.43 346.8v1M479.25 346.8v1.8M484.65 346.8v1M487.8 346.8v1M490.04 346.8v1M491.78 346.8v1M493.2 346.8v1M494.4 346.8v1M495.44 346.8v1M496.35 346.8v1M497.17 346.8v1.8M502.57 346.8v1M505.73 346.8v1M507.97 346.8v1M509.7 346.8v1M511.12 346.8v1M512.32 346.8v1M513.36 346.8v1M514.28 346.8v1" stroke="#555" stroke-width="0.5" fill="none"/>
<polygon points="443.7,346.5 443.7,345.85 447.46,345.23 449.46,342.77 450.69,336.62 451.77,324.31 452.85,307.38 453.77,292 454.69,282 455.46,278.46 456.23,284.31 457,296.62 457.77,312 458.69,325.85 459.62,335.08 460.85,340.46 462.38,343.08 464.38,344.62 468.23,345.54 514.8,346 514.8,346.5" fill="#ababab"/>
<polyline points="443.7,345.85 447.46,345.23 449.46,342.77 450.69,336.62 451.77,324.31 452.85,307.38 453.77,292 454.69,282 455.46,278.46 456.23,284.31 457,296.62 457.77,312 458.69,325.85 459.62,335.08 460.85,340.46 462.38,343.08 464.38,344.62 468.23,345.54 514.8,346" fill="none" stroke="#333" stroke-width="1.05" stroke-linejoin="round"/>
<path d="M441.6 346.5H515.1" stroke="#333" stroke-width="1.2"/>
<path d="M461.62 314.31H515.1M461.92 312.81v3M514.9 312.61v3.4" stroke="#222" stroke-width="1.3" fill="none"/>
<text transform="translate(492.53 312.4) scale(1 1.06)" font-size="14.6" stroke-width="0.35">4</text>
</g>
<g>
<rect x="289.5" y="351.5" width="71.7" height="71.6" fill="#fff" stroke="#747474" stroke-width="1"/>
<path d="M289.7 422.5h-2.3M289.7 418.95h-1.4M289.7 415.4h-1.4M289.7 411.85h-1.4M289.7 408.3h-1.4M289.7 404.75h-2.3M289.7 401.2h-1.4M289.7 397.65h-1.4M289.7 394.1h-1.4M289.7 390.55h-1.4M289.7 387h-2.3M289.7 383.45h-1.4M289.7 379.9h-1.4M289.7 376.35h-1.4M289.7 372.8h-1.4M289.7 369.25h-2.3M289.7 365.7h-1.4M289.7 362.15h-1.4M289.7 358.6h-1.4M289.7 355.05h-1.4M289.7 351.5h-2.3" stroke="#4a4a4a" stroke-width="0.8" fill="none"/>
<path d="M289.4 351.5V422.5" stroke="#555" stroke-width="1" fill="none"/>
<path d="M289.5 422.8v1.8M294.9 422.8v1M298.05 422.8v1M300.29 422.8v1M302.03 422.8v1M303.45 422.8v1M304.65 422.8v1M305.69 422.8v1M306.6 422.8v1M307.43 422.8v1.8M312.82 422.8v1M315.98 422.8v1M318.22 422.8v1M319.95 422.8v1M321.37 422.8v1M322.57 422.8v1M323.61 422.8v1M324.53 422.8v1M325.35 422.8v1.8M330.75 422.8v1M333.9 422.8v1M336.14 422.8v1M337.88 422.8v1M339.3 422.8v1M340.5 422.8v1M341.54 422.8v1M342.45 422.8v1M343.27 422.8v1.8M348.67 422.8v1M351.83 422.8v1M354.07 422.8v1M355.8 422.8v1M357.22 422.8v1M358.42 422.8v1M359.46 422.8v1M360.38 422.8v1" stroke="#555" stroke-width="0.5" fill="none"/>
<polygon points="289.8,422.5 289.8,422.15 293.46,421.54 295.46,419.54 296.69,414.15 297.77,401.85 298.85,383.38 299.77,366.46 300.69,356.46 301.46,354.46 302.23,358.77 303.15,372.62 304.08,388 305,400.31 306.08,408.77 307.31,414.15 308.85,416.92 311.15,418 314.23,418.77 318.08,419.38 321.92,420 325.77,419.69 328.85,420 331.15,420.92 335.77,421.69 343.46,422 360.9,422.15 360.9,422.5" fill="#ababab"/>
<polyline points="289.8,422.15 293.46,421.54 295.46,419.54 296.69,414.15 297.77,401.85 298.85,383.38 299.77,366.46 300.69,356.46 301.46,354.46 302.23,358.77 303.15,372.62 304.08,388 305,400.31 306.08,408.77 307.31,414.15 308.85,416.92 311.15,418 314.23,418.77 318.08,419.38 321.92,420 325.77,419.69 328.85,420 331.15,420.92 335.77,421.69 343.46,422 360.9,422.15" fill="none" stroke="#333" stroke-width="1.05" stroke-linejoin="round"/>
<path d="M287.7 422.5H361.2" stroke="#333" stroke-width="1.2"/>
<path d="M312.69 393.85H361.2M312.99 392.35v3M361 392.15v3.4" stroke="#222" stroke-width="1.3" fill="none"/>
<text transform="translate(342.99 392.25) scale(1 1.06)" font-size="14.6" stroke-width="0.35">10</text>
</g>
<g>
<rect x="366.6" y="351.5" width="71.7" height="71.6" fill="#fff" stroke="#747474" stroke-width="1"/>
<path d="M366.8 422.5h-2.3M366.8 418.95h-1.4M366.8 415.4h-1.4M366.8 411.85h-1.4M366.8 408.3h-1.4M366.8 404.75h-2.3M366.8 401.2h-1.4M366.8 397.65h-1.4M366.8 394.1h-1.4M366.8 390.55h-1.4M366.8 387h-2.3M366.8 383.45h-1.4M366.8 379.9h-1.4M366.8 376.35h-1.4M366.8 372.8h-1.4M366.8 369.25h-2.3M366.8 365.7h-1.4M366.8 362.15h-1.4M366.8 358.6h-1.4M366.8 355.05h-1.4M366.8 351.5h-2.3" stroke="#4a4a4a" stroke-width="0.8" fill="none"/>
<path d="M366.5 351.5V422.5" stroke="#555" stroke-width="1" fill="none"/>
<path d="M366.6 422.8v1.8M372 422.8v1M375.15 422.8v1M377.39 422.8v1M379.13 422.8v1M380.55 422.8v1M381.75 422.8v1M382.79 422.8v1M383.7 422.8v1M384.53 422.8v1.8M389.92 422.8v1M393.08 422.8v1M395.32 422.8v1M397.05 422.8v1M398.47 422.8v1M399.67 422.8v1M400.71 422.8v1M401.63 422.8v1M402.45 422.8v1.8M407.85 422.8v1M411 422.8v1M413.24 422.8v1M414.98 422.8v1M416.4 422.8v1M417.6 422.8v1M418.64 422.8v1M419.55 422.8v1M420.38 422.8v1.8M425.77 422.8v1M428.93 422.8v1M431.17 422.8v1M432.9 422.8v1M434.32 422.8v1M435.52 422.8v1M436.56 422.8v1M437.48 422.8v1" stroke="#555" stroke-width="0.5" fill="none"/>
<polygon points="366.9,422.5 366.9,422.15 372,421.54 373.54,418.77 374.62,411.08 375.85,397.23 376.92,380.31 377.85,366.46 378.77,357.23 379.54,354.92 380.31,360.31 381.23,372.62 382.15,384.92 383.08,391.08 384.31,392.62 385.85,395.69 387.38,397.23 388.92,398.77 390,399.54 391.23,396.46 392.77,392.62 394.31,389.23 395.54,387.69 396.77,390.31 398.15,394.15 399.69,398 401.23,401.85 402.77,405.69 404.31,408.77 405.85,411.08 407.38,413.38 408.92,417.23 410.46,419.54 412.46,421.23 415.85,422 437.69,422.15 437.69,422.5" fill="#ababab"/>
<polyline points="366.9,422.15 372,421.54 373.54,418.77 374.62,411.08 375.85,397.23 376.92,380.31 377.85,366.46 378.77,357.23 379.54,354.92 380.31,360.31 381.23,372.62 382.15,384.92 383.08,391.08 384.31,392.62 385.85,395.69 387.38,397.23 388.92,398.77 390,399.54 391.23,396.46 392.77,392.62 394.31,389.23 395.54,387.69 396.77,390.31 398.15,394.15 399.69,398 401.23,401.85 402.77,405.69 404.31,408.77 405.85,411.08 407.38,413.38 408.92,417.23 410.46,419.54 412.46,421.23 415.85,422 437.69,422.15" fill="none" stroke="#333" stroke-width="1.05" stroke-linejoin="round"/>
<path d="M364.8 422.5H438.3" stroke="#333" stroke-width="1.2"/>
<path d="M388.92 393.85H437.69M389.22 392.35v3M437.49 392.15v3.4" stroke="#222" stroke-width="1.3" fill="none"/>
<text transform="translate(418.65 393.32) scale(1 1.06)" font-size="14.6" stroke-width="0.35">48</text>
</g>
<g>
<rect x="443.4" y="351.5" width="71.7" height="71.6" fill="#fff" stroke="#747474" stroke-width="1"/>
<path d="M443.6 422.5h-2.3M443.6 418.95h-1.4M443.6 415.4h-1.4M443.6 411.85h-1.4M443.6 408.3h-1.4M443.6 404.75h-2.3M443.6 401.2h-1.4M443.6 397.65h-1.4M443.6 394.1h-1.4M443.6 390.55h-1.4M443.6 387h-2.3M443.6 383.45h-1.4M443.6 379.9h-1.4M443.6 376.35h-1.4M443.6 372.8h-1.4M443.6 369.25h-2.3M443.6 365.7h-1.4M443.6 362.15h-1.4M443.6 358.6h-1.4M443.6 355.05h-1.4M443.6 351.5h-2.3" stroke="#4a4a4a" stroke-width="0.8" fill="none"/>
<path d="M443.3 351.5V422.5" stroke="#555" stroke-width="1" fill="none"/>
<path d="M443.4 422.8v1.8M448.8 422.8v1M451.95 422.8v1M454.19 422.8v1M455.93 422.8v1M457.35 422.8v1M458.55 422.8v1M459.59 422.8v1M460.5 422.8v1M461.32 422.8v1.8M466.72 422.8v1M469.88 422.8v1M472.12 422.8v1M473.85 422.8v1M475.27 422.8v1M476.47 422.8v1M477.51 422.8v1M478.43 422.8v1M479.25 422.8v1.8M484.65 422.8v1M487.8 422.8v1M490.04 422.8v1M491.78 422.8v1M493.2 422.8v1M494.4 422.8v1M495.44 422.8v1M496.35 422.8v1M497.17 422.8v1.8M502.57 422.8v1M505.73 422.8v1M507.97 422.8v1M509.7 422.8v1M511.12 422.8v1M512.32 422.8v1M513.36 422.8v1M514.28 422.8v1" stroke="#555" stroke-width="0.5" fill="none"/>
<polygon points="443.7,422.5 443.7,422.15 449,421.54 451,419.54 452.23,414.15 453.31,401.85 454.38,384.92 455.31,369.54 456.23,358.77 457.15,354.92 457.92,359.54 458.69,371.08 459.62,384.92 460.54,397.23 461.62,406.46 462.85,412.31 464.38,415.08 466.69,416.15 469.77,416.77 472.85,417.54 475.92,418.31 479,419.38 482.08,420.46 485.15,421.38 489.77,421.85 514.69,422.15 514.69,422.5" fill="#ababab"/>
<polyline points="443.7,422.15 449,421.54 451,419.54 452.23,414.15 453.31,401.85 454.38,384.92 455.31,369.54 456.23,358.77 457.15,354.92 457.92,359.54 458.69,371.08 459.62,384.92 460.54,397.23 461.62,406.46 462.85,412.31 464.38,415.08 466.69,416.15 469.77,416.77 472.85,417.54 475.92,418.31 479,419.38 482.08,420.46 485.15,421.38 489.77,421.85 514.69,422.15" fill="none" stroke="#333" stroke-width="1.05" stroke-linejoin="round"/>
<path d="M441.6 422.5H515.1" stroke="#333" stroke-width="1.2"/>
<path d="M465.92 393.85H514.69M466.22 392.35v3M514.49 392.15v3.4" stroke="#222" stroke-width="1.3" fill="none"/>
<text transform="translate(496.46 391.94) scale(1 1.06)" font-size="14.6" stroke-width="0.35">17</text>
</g>
<g>
<rect x="289.5" y="427.3" width="71.7" height="71.6" fill="#fff" stroke="#747474" stroke-width="1"/>
<path d="M289.7 498.3h-2.3M289.7 494.75h-1.4M289.7 491.2h-1.4M289.7 487.65h-1.4M289.7 484.1h-1.4M289.7 480.55h-2.3M289.7 477h-1.4M289.7 473.45h-1.4M289.7 469.9h-1.4M289.7 466.35h-1.4M289.7 462.8h-2.3M289.7 459.25h-1.4M289.7 455.7h-1.4M289.7 452.15h-1.4M289.7 448.6h-1.4M289.7 445.05h-2.3M289.7 441.5h-1.4M289.7 437.95h-1.4M289.7 434.4h-1.4M289.7 430.85h-1.4M289.7 427.3h-2.3" stroke="#4a4a4a" stroke-width="0.8" fill="none"/>
<path d="M289.4 427.3V498.3" stroke="#555" stroke-width="1" fill="none"/>
<path d="M289.5 498.6v1.8M294.9 498.6v1M298.05 498.6v1M300.29 498.6v1M302.03 498.6v1M303.45 498.6v1M304.65 498.6v1M305.69 498.6v1M306.6 498.6v1M307.43 498.6v1.8M312.82 498.6v1M315.98 498.6v1M318.22 498.6v1M319.95 498.6v1M321.37 498.6v1M322.57 498.6v1M323.61 498.6v1M324.53 498.6v1M325.35 498.6v1.8M330.75 498.6v1M333.9 498.6v1M336.14 498.6v1M337.88 498.6v1M339.3 498.6v1M340.5 498.6v1M341.54 498.6v1M342.45 498.6v1M343.27 498.6v1.8M348.67 498.6v1M351.83 498.6v1M354.07 498.6v1M355.8 498.6v1M357.22 498.6v1M358.42 498.6v1M359.46 498.6v1M360.38 498.6v1" stroke="#555" stroke-width="0.5" fill="none"/>
<polygon points="289.92,498.3 289.92,497.85 289.92,481.69 290.54,485.54 291.15,491.69 291.92,490.15 293,482.46 294.23,468.62 295.46,453.23 296.54,440.92 297.62,433.23 298.38,430.92 299.15,434 300.08,437.85 301,445.54 301.92,451.69 302.85,457.85 303.77,464 304.69,466.77 305.77,467.85 306.85,471.69 308.08,474.77 309.31,477.85 310.54,480.15 311.77,482.46 313,484.31 314.54,485.54 316.08,487.85 317.62,489.85 319.15,491.69 321.15,493.23 323.46,494.77 325.77,495.54 328.08,496 330.38,496.62 333.46,497.54 338.85,498 360.9,498.1 360.9,498.3" fill="#ababab"/>
<polyline points="289.92,497.85 289.92,481.69 290.54,485.54 291.15,491.69 291.92,490.15 293,482.46 294.23,468.62 295.46,453.23 296.54,440.92 297.62,433.23 298.38,430.92 299.15,434 300.08,437.85 301,445.54 301.92,451.69 302.85,457.85 303.77,464 304.69,466.77 305.77,467.85 306.85,471.69 308.08,474.77 309.31,477.85 310.54,480.15 311.77,482.46 313,484.31 314.54,485.54 316.08,487.85 317.62,489.85 319.15,491.69 321.15,493.23 323.46,494.77 325.77,495.54 328.08,496 330.38,496.62 333.46,497.54 338.85,498 360.9,498.1" fill="none" stroke="#333" stroke-width="1.05" stroke-linejoin="round"/>
<path d="M287.7 498.3H361.2" stroke="#333" stroke-width="1.2"/>
<path d="M311.62 461.69H361.2M311.92 460.19v3M361 459.99v3.4" stroke="#222" stroke-width="1.3" fill="none"/>
<text transform="translate(341.49 459.48) scale(1 1.06)" font-size="14.6" stroke-width="0.35">16</text>
</g>
<g>
<rect x="366.6" y="427.3" width="71.7" height="71.6" fill="#fff" stroke="#747474" stroke-width="1"/>
<path d="M366.8 498.3h-2.3M366.8 494.75h-1.4M366.8 491.2h-1.4M366.8 487.65h-1.4M366.8 484.1h-1.4M366.8 480.55h-2.3M366.8 477h-1.4M366.8 473.45h-1.4M366.8 469.9h-1.4M366.8 466.35h-1.4M366.8 462.8h-2.3M366.8 459.25h-1.4M366.8 455.7h-1.4M366.8 452.15h-1.4M366.8 448.6h-1.4M366.8 445.05h-2.3M366.8 441.5h-1.4M366.8 437.95h-1.4M366.8 434.4h-1.4M366.8 430.85h-1.4M366.8 427.3h-2.3" stroke="#4a4a4a" stroke-width="0.8" fill="none"/>
<path d="M366.5 427.3V498.3" stroke="#555" stroke-width="1" fill="none"/>
<path d="M366.6 498.6v1.8M372 498.6v1M375.15 498.6v1M377.39 498.6v1M379.13 498.6v1M380.55 498.6v1M381.75 498.6v1M382.79 498.6v1M383.7 498.6v1M384.53 498.6v1.8M389.92 498.6v1M393.08 498.6v1M395.32 498.6v1M397.05 498.6v1M398.47 498.6v1M399.67 498.6v1M400.71 498.6v1M401.63 498.6v1M402.45 498.6v1.8M407.85 498.6v1M411 498.6v1M413.24 498.6v1M414.98 498.6v1M416.4 498.6v1M417.6 498.6v1M418.64 498.6v1M419.55 498.6v1M420.38 498.6v1.8M425.77 498.6v1M428.93 498.6v1M431.17 498.6v1M432.9 498.6v1M434.32 498.6v1M435.52 498.6v1M436.56 498.6v1M437.48 498.6v1" stroke="#555" stroke-width="0.5" fill="none"/>
<polygon points="366.9,498.3 366.9,497.85 366.9,494 367.54,495.54 368.46,491.69 369.69,482.46 370.92,470.15 372.15,456.31 373.38,445.54 374.62,437.85 375.54,434 376.31,434.77 377.08,430.46 377.85,436.31 378.62,440.92 379.54,444 380.31,440.92 381.08,438.15 381.69,444 382.46,450.15 383.54,452.46 384.62,455.54 385.69,457.08 386.62,460.15 387.85,463.23 389.08,464.31 390.31,465.54 391.54,466.31 392.46,462.46 393.54,459.08 394.31,461.69 395.23,464.77 396.46,467.85 397.69,470.92 398.92,474 400.46,478.62 402,482.46 403.54,483.23 405.08,486.31 406.62,489.38 408.15,491.69 409.69,494 411.23,496 413.54,497.54 417.38,498 437.69,498.1 437.69,498.3" fill="#ababab"/>
<polyline points="366.9,497.85 366.9,494 367.54,495.54 368.46,491.69 369.69,482.46 370.92,470.15 372.15,456.31 373.38,445.54 374.62,437.85 375.54,434 376.31,434.77 377.08,430.46 377.85,436.31 378.62,440.92 379.54,444 380.31,440.92 381.08,438.15 381.69,444 382.46,450.15 383.54,452.46 384.62,455.54 385.69,457.08 386.62,460.15 387.85,463.23 389.08,464.31 390.31,465.54 391.54,466.31 392.46,462.46 393.54,459.08 394.31,461.69 395.23,464.77 396.46,467.85 397.69,470.92 398.92,474 400.46,478.62 402,482.46 403.54,483.23 405.08,486.31 406.62,489.38 408.15,491.69 409.69,494 411.23,496 413.54,497.54 417.38,498 437.69,498.1" fill="none" stroke="#333" stroke-width="1.05" stroke-linejoin="round"/>
<path d="M364.8 498.3H438.3" stroke="#333" stroke-width="1.2"/>
<path d="M388.15 460.92H437.69M388.45 459.42v3M437.49 459.22v3.4" stroke="#222" stroke-width="1.3" fill="none"/>
<text transform="translate(418.2 459.02) scale(1 1.06)" font-size="14.6" stroke-width="0.35">37</text>
</g>
<g>
<rect x="443.4" y="427.3" width="71.7" height="71.6" fill="#fff" stroke="#747474" stroke-width="1"/>
<path d="M443.6 498.3h-2.3M443.6 494.75h-1.4M443.6 491.2h-1.4M443.6 487.65h-1.4M443.6 484.1h-1.4M443.6 480.55h-2.3M443.6 477h-1.4M443.6 473.45h-1.4M443.6 469.9h-1.4M443.6 466.35h-1.4M443.6 462.8h-2.3M443.6 459.25h-1.4M443.6 455.7h-1.4M443.6 452.15h-1.4M443.6 448.6h-1.4M443.6 445.05h-2.3M443.6 441.5h-1.4M443.6 437.95h-1.4M443.6 434.4h-1.4M443.6 430.85h-1.4M443.6 427.3h-2.3" stroke="#4a4a4a" stroke-width="0.8" fill="none"/>
<path d="M443.3 427.3V498.3" stroke="#555" stroke-width="1" fill="none"/>
<path d="M443.4 498.6v1.8M448.8 498.6v1M451.95 498.6v1M454.19 498.6v1M455.93 498.6v1M457.35 498.6v1M458.55 498.6v1M459.59 498.6v1M460.5 498.6v1M461.32 498.6v1.8M466.72 498.6v1M469.88 498.6v1M472.12 498.6v1M473.85 498.6v1M475.27 498.6v1M476.47 498.6v1M477.51 498.6v1M478.43 498.6v1M479.25 498.6v1.8M484.65 498.6v1M487.8 498.6v1M490.04 498.6v1M491.78 498.6v1M493.2 498.6v1M494.4 498.6v1M495.44 498.6v1M496.35 498.6v1M497.17 498.6v1.8M502.57 498.6v1M505.73 498.6v1M507.97 498.6v1M509.7 498.6v1M511.12 498.6v1M512.32 498.6v1M513.36 498.6v1M514.28 498.6v1" stroke="#555" stroke-width="0.5" fill="none"/>
<polygon points="443.7,498.3 443.7,497.85 443.7,494 444.54,494.77 445.46,495.54 446.69,491.69 447.92,482.46 449.15,470.15 450.38,456.31 451.62,444 452.85,435.54 453.92,430.46 454.85,436.31 455.62,442.46 456.54,443.23 457.46,450.15 458.38,459.38 459.31,467.08 460.54,473.23 461.77,477.85 463,480.92 464.54,482.46 466.08,484 467.62,485.85 469.46,485.54 471.31,486.31 473.15,487.08 474.69,488.62 476.23,490.46 477.77,491.69 479.31,494 481.31,495.08 483.62,495.69 485.92,496.31 488.23,497.23 492.08,498 514.8,498.1 514.8,498.3" fill="#ababab"/>
<polyline points="443.7,497.85 443.7,494 444.54,494.77 445.46,495.54 446.69,491.69 447.92,482.46 449.15,470.15 450.38,456.31 451.62,444 452.85,435.54 453.92,430.46 454.85,436.31 455.62,442.46 456.54,443.23 457.46,450.15 458.38,459.38 459.31,467.08 460.54,473.23 461.77,477.85 463,480.92 464.54,482.46 466.08,484 467.62,485.85 469.46,485.54 471.31,486.31 473.15,487.08 474.69,488.62 476.23,490.46 477.77,491.69 479.31,494 481.31,495.08 483.62,495.69 485.92,496.31 488.23,497.23 492.08,498 514.8,498.1" fill="none" stroke="#333" stroke-width="1.05" stroke-linejoin="round"/>
<path d="M441.6 498.3H515.1" stroke="#333" stroke-width="1.2"/>
<path d="M465.62 459.69H515.1M465.92 458.19v3M514.9 457.99v3.4" stroke="#222" stroke-width="1.3" fill="none"/>
<text transform="translate(495.26 458.25) scale(1 1.06)" font-size="14.6" stroke-width="0.35">20</text>
</g>
<text x="55.78" y="9" font-size="11.8" letter-spacing="-0.7">HDV</text>
<text x="109.83" y="9" font-size="11.8" letter-spacing="-0.01">HDV.GATA-3</text>
<text x="185.53" y="9" font-size="11.8" letter-spacing="-0.06">HDV.GATA-1</text>
<text x="315.63" y="9" font-size="11.8" letter-spacing="-1.1">HDV</text>
<text x="368.03" y="9" font-size="11.8" letter-spacing="0.01">HDV.GATA-3</text>
<text x="446.33" y="9" font-size="11.8" letter-spacing="-0.08">HDV.GATA-1</text>
<text x="58.43" y="272.8" font-size="11.8" letter-spacing="-0.7">HDV</text>
<text x="108.83" y="274" font-size="11.8" letter-spacing="0.02">HDV.GATA-3</text>
<text x="185.33" y="274" font-size="11.8" letter-spacing="-0.03">HDV.GATA-1</text>
<text x="315.93" y="272.8" font-size="11.8" letter-spacing="-0.95">HDV</text>
<text x="368.83" y="274" font-size="11.8" letter-spacing="0.08">HDV.GATA-3</text>
<text x="447.03" y="273.6" font-size="11.8" letter-spacing="-0.09">HDV.GATA-1</text>
<text x="8.95" y="46.6" font-size="11.4">T</text>
<text x="15.21" y="48.8" font-size="10.8">N</text>
<text x="1.95" y="127.5" font-size="11.4">T</text>
<text x="8.09" y="130.5" font-size="10.2" letter-spacing="-0.01">CM</text>
<text x="3.15" y="199.4" font-size="11.4">T</text>
<text x="9.36" y="201.8" font-size="10.2" letter-spacing="-0.13">EM</text>
<text x="8.95" y="315.5" font-size="11.4">T</text>
<text x="15.41" y="317.8" font-size="10.8">N</text>
<text x="1.15" y="384.8" font-size="11.4">T</text>
<text x="7.69" y="387.5" font-size="10.2" letter-spacing="-0.21">CM</text>
<text x="2.25" y="462.9" font-size="11.4">T</text>
<text x="8.36" y="465.4" font-size="10.2" letter-spacing="0.27">EM</text>
<text x="27.3" y="242.7" font-size="5.9" stroke-width="0.1">10<tspan dy="-2.6" font-size="5">0</tspan></text>
<text x="44.8" y="242.7" font-size="5.9" stroke-width="0.1">10<tspan dy="-2.6" font-size="5">1</tspan></text>
<text x="62.3" y="242.7" font-size="5.9" stroke-width="0.1">10<tspan dy="-2.6" font-size="5">2</tspan></text>
<text x="79.8" y="242.7" font-size="5.9" stroke-width="0.1">10<tspan dy="-2.6" font-size="5">3</tspan></text>
<text x="97" y="242.7" font-size="5.9" stroke-width="0.1">10<tspan dy="-2.6" font-size="5">4</tspan></text>
<text x="122.4" y="242.7" font-size="5.9" stroke-width="0.1">10<tspan dy="-2.6" font-size="5">1</tspan></text>
<text x="139.9" y="242.7" font-size="5.9" stroke-width="0.1">10<tspan dy="-2.6" font-size="5">2</tspan></text>
<text x="157.4" y="242.7" font-size="5.9" stroke-width="0.1">10<tspan dy="-2.6" font-size="5">3</tspan></text>
<text x="173.9" y="242.7" font-size="5.9" stroke-width="0.1">10<tspan dy="-2.6" font-size="5">4</tspan></text>
<text x="104.2" y="243.3" font-size="4.6">1</text><text x="104" y="249.4" font-size="4.6">0</text><text x="111.3" y="240" font-size="5">0</text>
<text x="181.1" y="242.7" font-size="5.9" stroke-width="0.1">10<tspan dy="-2.6" font-size="5">0</tspan></text>
<text x="198.6" y="242.7" font-size="5.9" stroke-width="0.1">10<tspan dy="-2.6" font-size="5">1</tspan></text>
<text x="216.1" y="242.7" font-size="5.9" stroke-width="0.1">10<tspan dy="-2.6" font-size="5">2</tspan></text>
<text x="233.6" y="242.7" font-size="5.9" stroke-width="0.1">10<tspan dy="-2.6" font-size="5">3</tspan></text>
<text x="250.8" y="242.7" font-size="5.9" stroke-width="0.1">10<tspan dy="-2.6" font-size="5">4</tspan></text>
<text x="287.5" y="242.7" font-size="5.9" stroke-width="0.1">10<tspan dy="-2.6" font-size="5">0</tspan></text>
<text x="305" y="242.7" font-size="5.9" stroke-width="0.1">10<tspan dy="-2.6" font-size="5">1</tspan></text>
<text x="322.5" y="242.7" font-size="5.9" stroke-width="0.1">10<tspan dy="-2.6" font-size="5">2</tspan></text>
<text x="340" y="242.7" font-size="5.9" stroke-width="0.1">10<tspan dy="-2.6" font-size="5">3</tspan></text>
<text x="356" y="242.7" font-size="5.9" stroke-width="0.1">10<tspan dy="-2.6" font-size="5">4</tspan></text>
<text x="364.6" y="242.7" font-size="5.9" stroke-width="0.1">10<tspan dy="-2.6" font-size="5">0</tspan></text>
<text x="382.1" y="242.7" font-size="5.9" stroke-width="0.1">10<tspan dy="-2.6" font-size="5">1</tspan></text>
<text x="399.6" y="242.7" font-size="5.9" stroke-width="0.1">10<tspan dy="-2.6" font-size="5">2</tspan></text>
<text x="417.1" y="242.7" font-size="5.9" stroke-width="0.1">10<tspan dy="-2.6" font-size="5">3</tspan></text>
<text x="433.1" y="242.7" font-size="5.9" stroke-width="0.1">10<tspan dy="-2.6" font-size="5">4</tspan></text>
<text x="441.4" y="242.7" font-size="5.9" stroke-width="0.1">10<tspan dy="-2.6" font-size="5">0</tspan></text>
<text x="458.9" y="242.7" font-size="5.9" stroke-width="0.1">10<tspan dy="-2.6" font-size="5">1</tspan></text>
<text x="476.4" y="242.7" font-size="5.9" stroke-width="0.1">10<tspan dy="-2.6" font-size="5">2</tspan></text>
<text x="493.9" y="242.7" font-size="5.9" stroke-width="0.1">10<tspan dy="-2.6" font-size="5">3</tspan></text>
<text x="509.9" y="242.7" font-size="5.9" stroke-width="0.1">10<tspan dy="-2.6" font-size="5">4</tspan></text>
<text x="28.5" y="507.2" font-size="5.9" stroke-width="0.1">10<tspan dy="-2.6" font-size="5">0</tspan></text>
<text x="46" y="507.2" font-size="5.9" stroke-width="0.1">10<tspan dy="-2.6" font-size="5">1</tspan></text>
<text x="63.5" y="507.2" font-size="5.9" stroke-width="0.1">10<tspan dy="-2.6" font-size="5">2</tspan></text>
<text x="81" y="507.2" font-size="5.9" stroke-width="0.1">10<tspan dy="-2.6" font-size="5">3</tspan></text>
<text x="97" y="507.2" font-size="5.9" stroke-width="0.1">10<tspan dy="-2.6" font-size="5">4</tspan></text>
<text x="105.4" y="507.2" font-size="5.9" stroke-width="0.1">10<tspan dy="-2.6" font-size="5">0</tspan></text>
<text x="122.9" y="507.2" font-size="5.9" stroke-width="0.1">10<tspan dy="-2.6" font-size="5">1</tspan></text>
<text x="140.4" y="507.2" font-size="5.9" stroke-width="0.1">10<tspan dy="-2.6" font-size="5">2</tspan></text>
<text x="157.9" y="507.2" font-size="5.9" stroke-width="0.1">10<tspan dy="-2.6" font-size="5">3</tspan></text>
<text x="173.9" y="507.2" font-size="5.9" stroke-width="0.1">10<tspan dy="-2.6" font-size="5">4</tspan></text>
<text x="182.3" y="507.2" font-size="5.9" stroke-width="0.1">10<tspan dy="-2.6" font-size="5">0</tspan></text>
<text x="199.8" y="507.2" font-size="5.9" stroke-width="0.1">10<tspan dy="-2.6" font-size="5">1</tspan></text>
<text x="217.3" y="507.2" font-size="5.9" stroke-width="0.1">10<tspan dy="-2.6" font-size="5">2</tspan></text>
<text x="234.8" y="507.2" font-size="5.9" stroke-width="0.1">10<tspan dy="-2.6" font-size="5">3</tspan></text>
<text x="250.8" y="507.2" font-size="5.9" stroke-width="0.1">10<tspan dy="-2.6" font-size="5">4</tspan></text>
<text x="287.5" y="507.2" font-size="5.9" stroke-width="0.1">10<tspan dy="-2.6" font-size="5">0</tspan></text>
<text x="305" y="507.2" font-size="5.9" stroke-width="0.1">10<tspan dy="-2.6" font-size="5">1</tspan></text>
<text x="322.5" y="507.2" font-size="5.9" stroke-width="0.1">10<tspan dy="-2.6" font-size="5">2</tspan></text>
<text x="340" y="507.2" font-size="5.9" stroke-width="0.1">10<tspan dy="-2.6" font-size="5">3</tspan></text>
<text x="356" y="507.2" font-size="5.9" stroke-width="0.1">10<tspan dy="-2.6" font-size="5">4</tspan></text>
<text x="364.6" y="507.2" font-size="5.9" stroke-width="0.1">10<tspan dy="-2.6" font-size="5">0</tspan></text>
<text x="382.1" y="507.2" font-size="5.9" stroke-width="0.1">10<tspan dy="-2.6" font-size="5">1</tspan></text>
<text x="399.6" y="507.2" font-size="5.9" stroke-width="0.1">10<tspan dy="-2.6" font-size="5">2</tspan></text>
<text x="417.1" y="507.2" font-size="5.9" stroke-width="0.1">10<tspan dy="-2.6" font-size="5">3</tspan></text>
<text x="433.1" y="507.2" font-size="5.9" stroke-width="0.1">10<tspan dy="-2.6" font-size="5">4</tspan></text>
<text x="441.4" y="507.2" font-size="5.9" stroke-width="0.1">10<tspan dy="-2.6" font-size="5">0</tspan></text>
<text x="458.9" y="507.2" font-size="5.9" stroke-width="0.1">10<tspan dy="-2.6" font-size="5">1</tspan></text>
<text x="476.4" y="507.2" font-size="5.9" stroke-width="0.1">10<tspan dy="-2.6" font-size="5">2</tspan></text>
<text x="493.9" y="507.2" font-size="5.9" stroke-width="0.1">10<tspan dy="-2.6" font-size="5">3</tspan></text>
<text x="509.9" y="507.2" font-size="5.9" stroke-width="0.1">10<tspan dy="-2.6" font-size="5">4</tspan></text>
<text x="26.97" y="254.6" font-size="11.2" letter-spacing="-0.45">IFN</text>
<text x="43.7" y="254.6" font-size="11.2">γ</text>
<path d="M58 251.9H251.3" stroke="#444" stroke-width="0.8" fill="none"/>
<path d="M254.3 251.9l-6.2 -2.3v4.6z" fill="#111"/>
<text x="289.49" y="255" font-size="11" letter-spacing="0.63">IL-4</text>
<path d="M315 251.4H513.6" stroke="#444" stroke-width="0.8" fill="none"/>
<path d="M516.6 251.4l-6.2 -2.3v4.6z" fill="#111"/>
<text x="29.57" y="519" font-size="11.2" letter-spacing="0.4">IL-5</text>
<path d="M53.8 514.2H251.3" stroke="#444" stroke-width="0.8" fill="none"/>
<path d="M254.3 514.2l-6.2 -2.3v4.6z" fill="#111"/>
<text x="288.29" y="519" font-size="11" letter-spacing="0.35">IL-13</text>
<path d="M323.5 514.4H509.6" stroke="#444" stroke-width="0.8" fill="none"/>
<path d="M512.6 514.4l-6.2 -2.3v4.6z" fill="#111"/>
</svg>
</body></html>
